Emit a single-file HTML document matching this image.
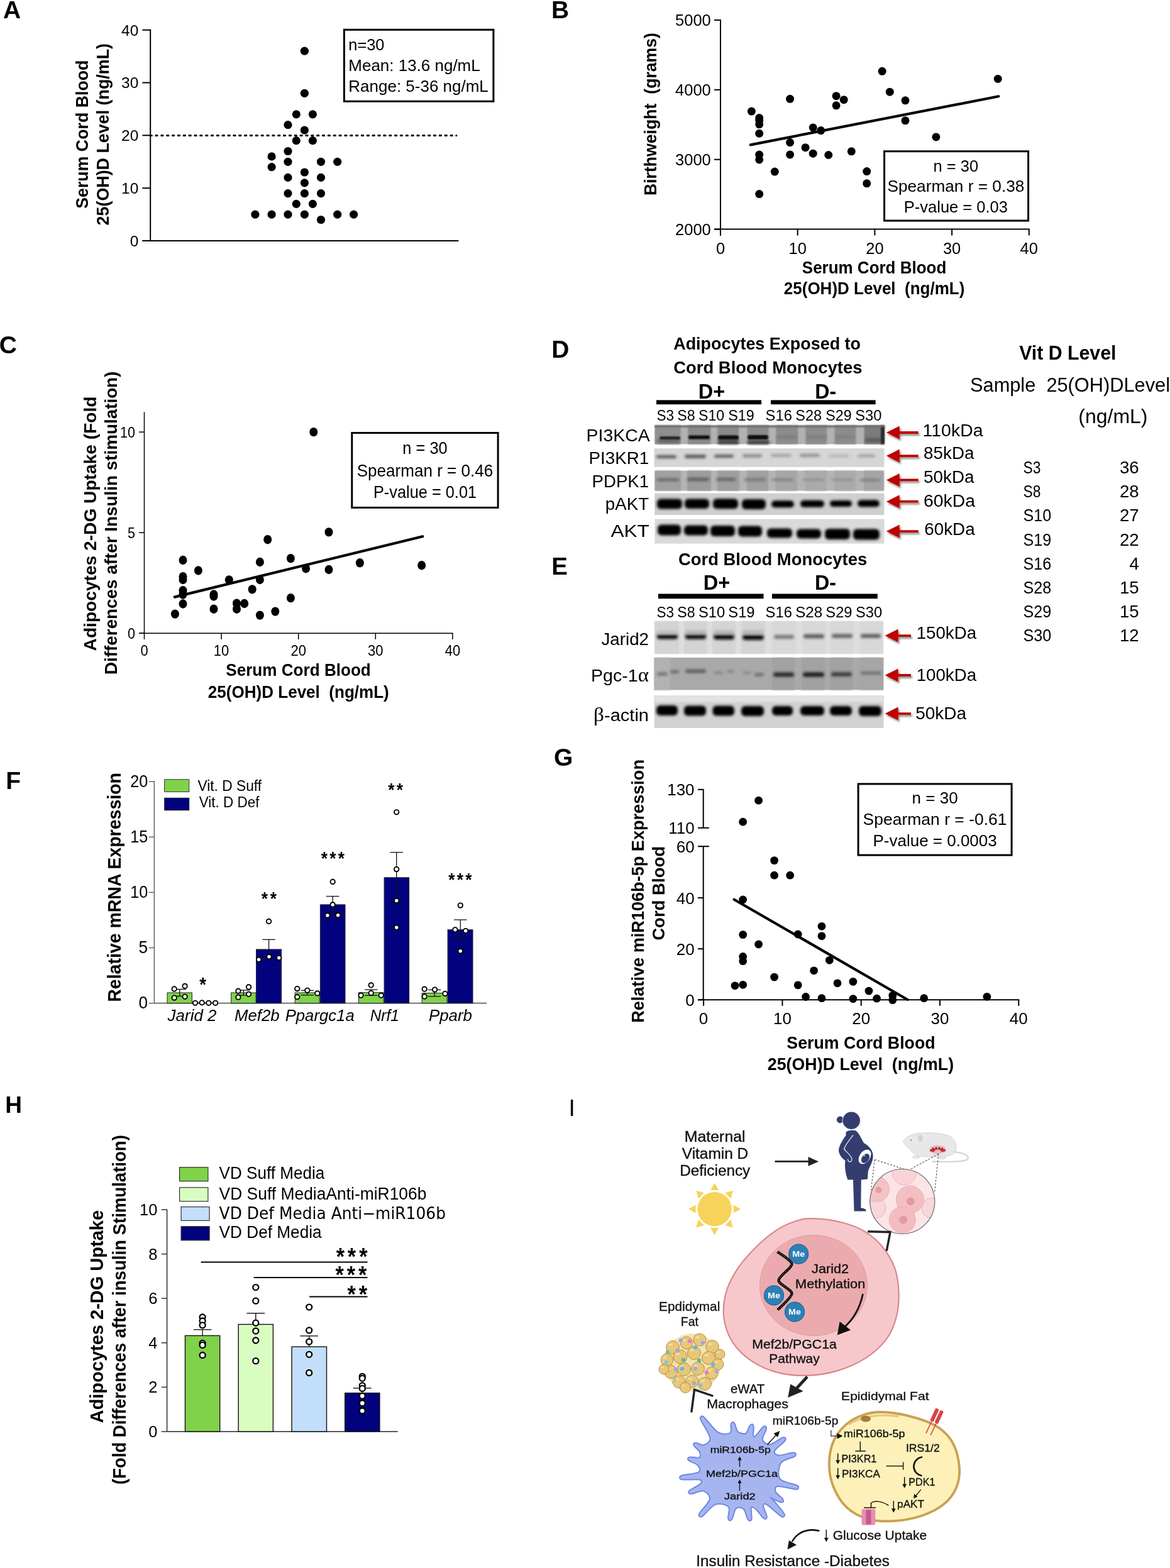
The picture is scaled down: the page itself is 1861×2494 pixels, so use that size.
<!DOCTYPE html>
<html><head><meta charset="utf-8"><title>Figure</title>
<style>html,body{margin:0;padding:0;background:#fff;} svg{display:block;}</style></head>
<body><svg width="1861" height="2494" viewBox="0 0 1861 2494">
<rect x="0" y="0" width="1861" height="2494" fill="#fff"/>
<text x="4.9" y="28.5" font-size="39" font-family="'Liberation Sans', Arial, sans-serif" xml:space="preserve" font-weight="bold" >A</text>
<line x1="239.2" y1="46.7" x2="239.2" y2="384.0" stroke="#000" stroke-width="2" />
<line x1="226.4" y1="47.7" x2="239.2" y2="47.7" stroke="#000" stroke-width="2" />
<text x="220.3" y="56.5" font-size="24.5" font-family="'Liberation Sans', Arial, sans-serif" xml:space="preserve" text-anchor="end" >40</text>
<line x1="226.4" y1="131.5" x2="239.2" y2="131.5" stroke="#000" stroke-width="2" />
<text x="220.3" y="140.3" font-size="24.5" font-family="'Liberation Sans', Arial, sans-serif" xml:space="preserve" text-anchor="end" >30</text>
<line x1="226.4" y1="215.3" x2="239.2" y2="215.3" stroke="#000" stroke-width="2" />
<text x="220.3" y="224.1" font-size="24.5" font-family="'Liberation Sans', Arial, sans-serif" xml:space="preserve" text-anchor="end" >20</text>
<line x1="226.4" y1="299.2" x2="239.2" y2="299.2" stroke="#000" stroke-width="2" />
<text x="220.3" y="308.0" font-size="24.5" font-family="'Liberation Sans', Arial, sans-serif" xml:space="preserve" text-anchor="end" >10</text>
<line x1="226.4" y1="383.0" x2="239.2" y2="383.0" stroke="#000" stroke-width="2" />
<text x="220.3" y="391.8" font-size="24.5" font-family="'Liberation Sans', Arial, sans-serif" xml:space="preserve" text-anchor="end" >0</text>
<line x1="226.4" y1="383.0" x2="729.4" y2="383.0" stroke="#000" stroke-width="2" />
<line x1="239.0" y1="215.6" x2="726.0" y2="215.6" stroke="#000" stroke-width="3.0" stroke-dasharray="2.4 6.45" stroke-linecap="round"/>
<text x="139.9" y="331.8" font-size="28" font-family="'Liberation Sans', Arial, sans-serif" xml:space="preserve" font-weight="bold" textLength="236.2" lengthAdjust="spacingAndGlyphs" transform="rotate(-90 139.9 331.8)" >Serum Cord Blood</text>
<text x="172.9" y="358.4" font-size="28" font-family="'Liberation Sans', Arial, sans-serif" xml:space="preserve" font-weight="bold" textLength="289.4" lengthAdjust="spacingAndGlyphs" transform="rotate(-90 172.9 358.4)" >25(OH)D Level (ng/mL)</text>
<circle cx="484.4" cy="81.2" r="6.60" fill="#000" />
<circle cx="484.4" cy="148.3" r="6.60" fill="#000" />
<circle cx="471.3" cy="181.8" r="6.60" fill="#000" />
<circle cx="497.4" cy="181.8" r="6.60" fill="#000" />
<circle cx="458.0" cy="198.6" r="6.60" fill="#000" />
<circle cx="484.4" cy="207.0" r="6.60" fill="#000" />
<circle cx="471.3" cy="223.7" r="6.60" fill="#000" />
<circle cx="497.4" cy="223.7" r="6.60" fill="#000" />
<circle cx="458.0" cy="240.5" r="6.60" fill="#000" />
<circle cx="432.1" cy="248.9" r="6.60" fill="#000" />
<circle cx="458.0" cy="257.3" r="6.60" fill="#000" />
<circle cx="510.5" cy="257.3" r="6.60" fill="#000" />
<circle cx="536.7" cy="257.3" r="6.60" fill="#000" />
<circle cx="432.1" cy="265.7" r="6.60" fill="#000" />
<circle cx="484.4" cy="274.0" r="6.60" fill="#000" />
<circle cx="458.0" cy="282.4" r="6.60" fill="#000" />
<circle cx="510.5" cy="282.4" r="6.60" fill="#000" />
<circle cx="484.4" cy="290.8" r="6.60" fill="#000" />
<circle cx="458.0" cy="307.6" r="6.60" fill="#000" />
<circle cx="484.4" cy="307.6" r="6.60" fill="#000" />
<circle cx="510.5" cy="307.6" r="6.60" fill="#000" />
<circle cx="471.3" cy="324.3" r="6.60" fill="#000" />
<circle cx="497.4" cy="324.3" r="6.60" fill="#000" />
<circle cx="405.9" cy="341.1" r="6.60" fill="#000" />
<circle cx="432.1" cy="341.1" r="6.60" fill="#000" />
<circle cx="458.0" cy="341.1" r="6.60" fill="#000" />
<circle cx="484.4" cy="341.1" r="6.60" fill="#000" />
<circle cx="536.7" cy="341.1" r="6.60" fill="#000" />
<circle cx="562.6" cy="341.1" r="6.60" fill="#000" />
<circle cx="510.5" cy="349.5" r="6.60" fill="#000" />
<rect x="547.4" y="47.3" width="237.5" height="113.9" fill="none" stroke="#000" stroke-width="3" />
<text x="554.3" y="79.5" font-size="25.4" font-family="'Liberation Sans', Arial, sans-serif" xml:space="preserve" >n=30</text>
<text x="554.3" y="112.6" font-size="25.4" font-family="'Liberation Sans', Arial, sans-serif" xml:space="preserve" textLength="209.4" lengthAdjust="spacingAndGlyphs" >Mean: 13.6 ng/mL</text>
<text x="554.3" y="145.8" font-size="25.4" font-family="'Liberation Sans', Arial, sans-serif" xml:space="preserve" textLength="222.5" lengthAdjust="spacingAndGlyphs" >Range: 5-36 ng/mL</text>
<text x="877.0" y="28.5" font-size="39" font-family="'Liberation Sans', Arial, sans-serif" xml:space="preserve" font-weight="bold" >B</text>
<line x1="1146.0" y1="31.0" x2="1146.0" y2="375.0" stroke="#000" stroke-width="2" />
<line x1="1136.0" y1="364.6" x2="1146.0" y2="364.6" stroke="#000" stroke-width="2" />
<text x="1130.8" y="374.0" font-size="25.5" font-family="'Liberation Sans', Arial, sans-serif" xml:space="preserve" text-anchor="end" >2000</text>
<line x1="1136.0" y1="253.7" x2="1146.0" y2="253.7" stroke="#000" stroke-width="2" />
<text x="1130.8" y="263.1" font-size="25.5" font-family="'Liberation Sans', Arial, sans-serif" xml:space="preserve" text-anchor="end" >3000</text>
<line x1="1136.0" y1="142.8" x2="1146.0" y2="142.8" stroke="#000" stroke-width="2" />
<text x="1130.8" y="152.2" font-size="25.5" font-family="'Liberation Sans', Arial, sans-serif" xml:space="preserve" text-anchor="end" >4000</text>
<line x1="1136.0" y1="31.9" x2="1146.0" y2="31.9" stroke="#000" stroke-width="2" />
<text x="1130.8" y="41.3" font-size="25.5" font-family="'Liberation Sans', Arial, sans-serif" xml:space="preserve" text-anchor="end" >5000</text>
<line x1="1136.0" y1="364.6" x2="1637.8" y2="364.6" stroke="#000" stroke-width="2" />
<line x1="1146.0" y1="364.6" x2="1146.0" y2="374.5" stroke="#000" stroke-width="2" />
<text x="1146.0" y="403.5" font-size="25.5" font-family="'Liberation Sans', Arial, sans-serif" xml:space="preserve" text-anchor="middle" >0</text>
<line x1="1268.7" y1="364.6" x2="1268.7" y2="374.5" stroke="#000" stroke-width="2" />
<text x="1268.7" y="403.5" font-size="25.5" font-family="'Liberation Sans', Arial, sans-serif" xml:space="preserve" text-anchor="middle" >10</text>
<line x1="1391.4" y1="364.6" x2="1391.4" y2="374.5" stroke="#000" stroke-width="2" />
<text x="1391.4" y="403.5" font-size="25.5" font-family="'Liberation Sans', Arial, sans-serif" xml:space="preserve" text-anchor="middle" >20</text>
<line x1="1514.1" y1="364.6" x2="1514.1" y2="374.5" stroke="#000" stroke-width="2" />
<text x="1514.1" y="403.5" font-size="25.5" font-family="'Liberation Sans', Arial, sans-serif" xml:space="preserve" text-anchor="middle" >30</text>
<line x1="1636.8" y1="364.6" x2="1636.8" y2="374.5" stroke="#000" stroke-width="2" />
<text x="1636.8" y="403.5" font-size="25.5" font-family="'Liberation Sans', Arial, sans-serif" xml:space="preserve" text-anchor="middle" >40</text>
<text x="1043.6" y="311.1" font-size="27" font-family="'Liberation Sans', Arial, sans-serif" xml:space="preserve" font-weight="bold" textLength="259.1" lengthAdjust="spacingAndGlyphs" transform="rotate(-90 1043.6 311.1)" >Birthweight  (grams)</text>
<text x="1275.8" y="434.9" font-size="28" font-family="'Liberation Sans', Arial, sans-serif" xml:space="preserve" font-weight="bold" textLength="229.5" lengthAdjust="spacingAndGlyphs" >Serum Cord Blood</text>
<text x="1246.8" y="468.3" font-size="28" font-family="'Liberation Sans', Arial, sans-serif" xml:space="preserve" font-weight="bold" textLength="287.6" lengthAdjust="spacingAndGlyphs" >25(OH)D Level  (ng/mL)</text>
<circle cx="1195.4" cy="177.1" r="6.50" fill="#000" />
<circle cx="1207.7" cy="187.5" r="6.50" fill="#000" />
<circle cx="1207.7" cy="191.6" r="6.50" fill="#000" />
<circle cx="1207.7" cy="197.8" r="6.50" fill="#000" />
<circle cx="1207.7" cy="212.3" r="6.50" fill="#000" />
<circle cx="1207.7" cy="246.0" r="6.50" fill="#000" />
<circle cx="1207.7" cy="253.9" r="6.50" fill="#000" />
<circle cx="1207.7" cy="308.6" r="6.50" fill="#000" />
<circle cx="1232.3" cy="273.1" r="6.50" fill="#000" />
<circle cx="1256.6" cy="157.3" r="6.50" fill="#000" />
<circle cx="1256.6" cy="226.6" r="6.50" fill="#000" />
<circle cx="1256.6" cy="245.9" r="6.50" fill="#000" />
<circle cx="1281.1" cy="234.7" r="6.50" fill="#000" />
<circle cx="1293.2" cy="202.9" r="6.50" fill="#000" />
<circle cx="1293.2" cy="244.2" r="6.50" fill="#000" />
<circle cx="1305.7" cy="207.6" r="6.50" fill="#000" />
<circle cx="1317.8" cy="246.5" r="6.50" fill="#000" />
<circle cx="1330.1" cy="152.7" r="6.50" fill="#000" />
<circle cx="1330.1" cy="167.8" r="6.50" fill="#000" />
<circle cx="1342.2" cy="158.7" r="6.50" fill="#000" />
<circle cx="1354.3" cy="240.8" r="6.50" fill="#000" />
<circle cx="1378.7" cy="272.6" r="6.50" fill="#000" />
<circle cx="1378.7" cy="291.8" r="6.50" fill="#000" />
<circle cx="1403.2" cy="113.3" r="6.50" fill="#000" />
<circle cx="1415.3" cy="146.2" r="6.50" fill="#000" />
<circle cx="1440.0" cy="159.8" r="6.50" fill="#000" />
<circle cx="1440.0" cy="191.8" r="6.50" fill="#000" />
<circle cx="1488.9" cy="217.9" r="6.50" fill="#000" />
<circle cx="1587.2" cy="125.4" r="6.50" fill="#000" />
<line x1="1193.8" y1="230.4" x2="1588.2" y2="153.2" stroke="#000" stroke-width="4.2" stroke-linecap="round"/>
<rect x="1406.6" y="240.7" width="229.0" height="110.3" fill="#fff" stroke="#000" stroke-width="3" />
<text x="1520.4" y="272.6" font-size="25.5" font-family="'Liberation Sans', Arial, sans-serif" xml:space="preserve" text-anchor="middle" >n = 30</text>
<text x="1520.4" y="305.0" font-size="25.5" font-family="'Liberation Sans', Arial, sans-serif" xml:space="preserve" text-anchor="middle" textLength="217.9" lengthAdjust="spacingAndGlyphs" >Spearman r = 0.38</text>
<text x="1520.4" y="338.0" font-size="25.5" font-family="'Liberation Sans', Arial, sans-serif" xml:space="preserve" text-anchor="middle" >P-value = 0.03</text>
<text x="-1.2" y="562.3" font-size="39" font-family="'Liberation Sans', Arial, sans-serif" xml:space="preserve" font-weight="bold" >C</text>
<line x1="229.5" y1="655.5" x2="229.5" y2="1008.0" stroke="#000" stroke-width="1.5" />
<line x1="221.0" y1="1007.2" x2="229.5" y2="1007.2" stroke="#000" stroke-width="1.5" />
<text x="215.1" y="1015.7" font-size="24.5" font-family="'Liberation Sans', Arial, sans-serif" xml:space="preserve" text-anchor="end" textLength="12.0" lengthAdjust="spacingAndGlyphs" >0</text>
<line x1="221.0" y1="847.2" x2="229.5" y2="847.2" stroke="#000" stroke-width="1.5" />
<text x="215.1" y="855.7" font-size="24.5" font-family="'Liberation Sans', Arial, sans-serif" xml:space="preserve" text-anchor="end" textLength="12.0" lengthAdjust="spacingAndGlyphs" >5</text>
<line x1="221.0" y1="687.2" x2="229.5" y2="687.2" stroke="#000" stroke-width="1.5" />
<text x="215.1" y="695.7" font-size="24.5" font-family="'Liberation Sans', Arial, sans-serif" xml:space="preserve" text-anchor="end" textLength="24.0" lengthAdjust="spacingAndGlyphs" >10</text>
<line x1="221.0" y1="1007.2" x2="720.6" y2="1007.2" stroke="#000" stroke-width="1.5" />
<line x1="229.5" y1="1007.2" x2="229.5" y2="1016.9" stroke="#000" stroke-width="1.5" />
<text x="229.5" y="1043.2" font-size="24.0" font-family="'Liberation Sans', Arial, sans-serif" xml:space="preserve" text-anchor="middle" textLength="12.2" lengthAdjust="spacingAndGlyphs" >0</text>
<line x1="352.1" y1="1007.2" x2="352.1" y2="1016.9" stroke="#000" stroke-width="1.5" />
<text x="352.1" y="1043.2" font-size="24.0" font-family="'Liberation Sans', Arial, sans-serif" xml:space="preserve" text-anchor="middle" textLength="24.5" lengthAdjust="spacingAndGlyphs" >10</text>
<line x1="474.7" y1="1007.2" x2="474.7" y2="1016.9" stroke="#000" stroke-width="1.5" />
<text x="474.7" y="1043.2" font-size="24.0" font-family="'Liberation Sans', Arial, sans-serif" xml:space="preserve" text-anchor="middle" textLength="24.5" lengthAdjust="spacingAndGlyphs" >20</text>
<line x1="597.3" y1="1007.2" x2="597.3" y2="1016.9" stroke="#000" stroke-width="1.5" />
<text x="597.3" y="1043.2" font-size="24.0" font-family="'Liberation Sans', Arial, sans-serif" xml:space="preserve" text-anchor="middle" textLength="24.5" lengthAdjust="spacingAndGlyphs" >30</text>
<line x1="719.9" y1="1007.2" x2="719.9" y2="1016.9" stroke="#000" stroke-width="1.5" />
<text x="719.9" y="1043.2" font-size="24.0" font-family="'Liberation Sans', Arial, sans-serif" xml:space="preserve" text-anchor="middle" textLength="24.5" lengthAdjust="spacingAndGlyphs" >40</text>
<text x="152.9" y="1035.4" font-size="28" font-family="'Liberation Sans', Arial, sans-serif" xml:space="preserve" font-weight="bold" textLength="404.9" lengthAdjust="spacingAndGlyphs" transform="rotate(-90 152.9 1035.4)" >Adipocytes 2-DG Uptake (Fold</text>
<text x="185.7" y="1073.0" font-size="28" font-family="'Liberation Sans', Arial, sans-serif" xml:space="preserve" font-weight="bold" textLength="482.4" lengthAdjust="spacingAndGlyphs" transform="rotate(-90 185.7 1073.0)" >Differences after Insulin stimulation)</text>
<ellipse cx="278.4" cy="976.6" rx="6.50" ry="7.20" fill="#000" />
<ellipse cx="291.0" cy="891.0" rx="6.50" ry="7.20" fill="#000" />
<ellipse cx="291.0" cy="917.2" rx="6.50" ry="7.20" fill="#000" />
<ellipse cx="291.0" cy="922.0" rx="6.50" ry="7.20" fill="#000" />
<ellipse cx="291.0" cy="939.3" rx="6.50" ry="7.20" fill="#000" />
<ellipse cx="291.0" cy="945.6" rx="6.50" ry="7.20" fill="#000" />
<ellipse cx="291.0" cy="960.5" rx="6.50" ry="7.20" fill="#000" />
<ellipse cx="315.4" cy="907.5" rx="6.50" ry="7.20" fill="#000" />
<ellipse cx="340.0" cy="945.5" rx="6.50" ry="7.20" fill="#000" />
<ellipse cx="340.0" cy="948.5" rx="6.50" ry="7.20" fill="#000" />
<ellipse cx="340.0" cy="968.7" rx="6.50" ry="7.20" fill="#000" />
<ellipse cx="364.3" cy="922.4" rx="6.50" ry="7.20" fill="#000" />
<ellipse cx="376.5" cy="959.7" rx="6.50" ry="7.20" fill="#000" />
<ellipse cx="376.5" cy="968.7" rx="6.50" ry="7.20" fill="#000" />
<ellipse cx="388.7" cy="960.0" rx="6.50" ry="7.20" fill="#000" />
<ellipse cx="401.2" cy="937.4" rx="6.50" ry="7.20" fill="#000" />
<ellipse cx="413.4" cy="894.0" rx="6.50" ry="7.20" fill="#000" />
<ellipse cx="413.4" cy="922.0" rx="6.50" ry="7.20" fill="#000" />
<ellipse cx="413.4" cy="978.6" rx="6.50" ry="7.20" fill="#000" />
<ellipse cx="425.7" cy="858.2" rx="6.50" ry="7.20" fill="#000" />
<ellipse cx="437.8" cy="972.6" rx="6.50" ry="7.20" fill="#000" />
<ellipse cx="462.4" cy="888.1" rx="6.50" ry="7.20" fill="#000" />
<ellipse cx="462.4" cy="951.1" rx="6.50" ry="7.20" fill="#000" />
<ellipse cx="486.6" cy="904.2" rx="6.50" ry="7.20" fill="#000" />
<ellipse cx="498.8" cy="687.1" rx="6.50" ry="7.20" fill="#000" />
<ellipse cx="523.0" cy="846.4" rx="6.50" ry="7.20" fill="#000" />
<ellipse cx="523.0" cy="906.0" rx="6.50" ry="7.20" fill="#000" />
<ellipse cx="572.4" cy="895.3" rx="6.50" ry="7.20" fill="#000" />
<ellipse cx="670.7" cy="899.2" rx="6.50" ry="7.20" fill="#000" />
<line x1="277.8" y1="949.6" x2="672.2" y2="853.2" stroke="#000" stroke-width="4.2" stroke-linecap="round"/>
<rect x="559.8" y="688.5" width="232.3" height="118.9" fill="#fff" stroke="#000" stroke-width="3" />
<text x="676.0" y="722.2" font-size="28" font-family="'Liberation Sans', Arial, sans-serif" xml:space="preserve" text-anchor="middle" textLength="71.4" lengthAdjust="spacingAndGlyphs" >n = 30</text>
<text x="676.0" y="757.5" font-size="28" font-family="'Liberation Sans', Arial, sans-serif" xml:space="preserve" text-anchor="middle" textLength="216.7" lengthAdjust="spacingAndGlyphs" >Spearman r = 0.46</text>
<text x="676.0" y="792.3" font-size="28" font-family="'Liberation Sans', Arial, sans-serif" xml:space="preserve" text-anchor="middle" textLength="164.2" lengthAdjust="spacingAndGlyphs" >P-value = 0.01</text>
<text x="359.3" y="1074.5" font-size="28" font-family="'Liberation Sans', Arial, sans-serif" xml:space="preserve" font-weight="bold" textLength="230.5" lengthAdjust="spacingAndGlyphs" >Serum Cord Blood</text>
<text x="330.8" y="1109.8" font-size="28" font-family="'Liberation Sans', Arial, sans-serif" xml:space="preserve" font-weight="bold" textLength="288.0" lengthAdjust="spacingAndGlyphs" >25(OH)D Level  (ng/mL)</text>
<defs>
<filter id="bl1" x="-20%" y="-80%" width="140%" height="260%"><feGaussianBlur stdDeviation="1.9"/></filter>
<filter id="bl2" x="-20%" y="-50%" width="140%" height="200%"><feGaussianBlur stdDeviation="1.0"/></filter>
<filter id="bl3" x="-20%" y="-50%" width="140%" height="200%"><feGaussianBlur stdDeviation="2.4"/></filter>
<filter id="shd" x="-30%" y="-50%" width="160%" height="220%"><feGaussianBlur in="SourceAlpha" stdDeviation="1.6"/><feOffset dx="2" dy="3" result="o"/><feComponentTransfer><feFuncA type="linear" slope="0.45"/></feComponentTransfer><feMerge><feMergeNode/><feMergeNode in="SourceGraphic"/></feMerge></filter>
</defs>
<text x="877.2" y="568.5" font-size="39" font-family="'Liberation Sans', Arial, sans-serif" xml:space="preserve" font-weight="bold" >D</text>
<text x="1071.2" y="555.6" font-size="28" font-family="'Liberation Sans', Arial, sans-serif" xml:space="preserve" font-weight="bold" textLength="297.8" lengthAdjust="spacingAndGlyphs" >Adipocytes Exposed to</text>
<text x="1071.2" y="593.8" font-size="28" font-family="'Liberation Sans', Arial, sans-serif" xml:space="preserve" font-weight="bold" textLength="300.3" lengthAdjust="spacingAndGlyphs" >Cord Blood Monocytes</text>
<text x="1110.7" y="633.5" font-size="32.5" font-family="'Liberation Sans', Arial, sans-serif" xml:space="preserve" font-weight="bold" textLength="42.5" lengthAdjust="spacingAndGlyphs" >D+</text>
<text x="1296.3" y="633.5" font-size="32.5" font-family="'Liberation Sans', Arial, sans-serif" xml:space="preserve" font-weight="bold" textLength="34.0" lengthAdjust="spacingAndGlyphs" >D-</text>
<rect x="1044.0" y="636.4" width="167.1" height="6.8" fill="#000" />
<rect x="1226.0" y="636.4" width="166.7" height="6.8" fill="#000" />
<text x="1044.4" y="669.4" font-size="23" font-family="'Liberation Sans', Arial, sans-serif" xml:space="preserve" textLength="27.6" lengthAdjust="spacingAndGlyphs" >S3</text>
<text x="1077.3" y="669.4" font-size="23" font-family="'Liberation Sans', Arial, sans-serif" xml:space="preserve" textLength="28.4" lengthAdjust="spacingAndGlyphs" >S8</text>
<text x="1111.0" y="669.4" font-size="23" font-family="'Liberation Sans', Arial, sans-serif" xml:space="preserve" textLength="41.2" lengthAdjust="spacingAndGlyphs" >S10</text>
<text x="1158.3" y="669.4" font-size="23" font-family="'Liberation Sans', Arial, sans-serif" xml:space="preserve" textLength="41.5" lengthAdjust="spacingAndGlyphs" >S19</text>
<text x="1217.6" y="669.4" font-size="23" font-family="'Liberation Sans', Arial, sans-serif" xml:space="preserve" textLength="42.3" lengthAdjust="spacingAndGlyphs" >S16</text>
<text x="1265.2" y="669.4" font-size="23" font-family="'Liberation Sans', Arial, sans-serif" xml:space="preserve" textLength="41.9" lengthAdjust="spacingAndGlyphs" >S28</text>
<text x="1313.3" y="669.4" font-size="23" font-family="'Liberation Sans', Arial, sans-serif" xml:space="preserve" textLength="41.5" lengthAdjust="spacingAndGlyphs" >S29</text>
<text x="1360.2" y="669.4" font-size="23" font-family="'Liberation Sans', Arial, sans-serif" xml:space="preserve" textLength="42.3" lengthAdjust="spacingAndGlyphs" >S30</text>
<g><rect x="1041.3" y="676.6" width="365.7" height="29.9" fill="#b2b2b2"/>
<rect x="1042.0" y="676.6" width="40.7" height="29.9" fill="#8e8e8e" filter="url(#bl2)"/>
<rect x="1094.2" y="676.6" width="36.3" height="29.9" fill="#8a8a8a" filter="url(#bl2)"/>
<rect x="1141.4" y="676.6" width="33.9" height="29.9" fill="#8a8a8a" filter="url(#bl2)"/>
<rect x="1188.6" y="676.6" width="33.9" height="29.9" fill="#8a8a8a" filter="url(#bl2)"/>
<rect x="1234.2" y="676.6" width="35.1" height="29.9" fill="#8c8c8c" filter="url(#bl2)"/>
<rect x="1281.4" y="676.6" width="33.9" height="29.9" fill="#8c8c8c" filter="url(#bl2)"/>
<rect x="1327.4" y="676.6" width="33.9" height="29.9" fill="#8c8c8c" filter="url(#bl2)"/>
<rect x="1374.6" y="676.6" width="31.4" height="29.9" fill="#7c7c7c" filter="url(#bl2)"/>
<rect x="1049.0" y="694.2" width="33.0" height="5.5" rx="2.8" fill="#1a1a1a" filter="url(#bl2)"/>
<rect x="1095.0" y="692.5" width="34.0" height="6.0" rx="3.0" fill="#111" filter="url(#bl2)"/>
<rect x="1142.0" y="692.5" width="33.0" height="7.0" rx="3.5" fill="#0c0c0c" filter="url(#bl2)"/>
<rect x="1189.0" y="692.0" width="33.0" height="7.0" rx="3.5" fill="#0c0c0c" filter="url(#bl2)"/>
<rect x="1046.0" y="699.5" width="35.0" height="5.0" rx="2.5" fill="#606060" filter="url(#bl1)"/>
<rect x="1142.0" y="700.0" width="33.0" height="6.0" rx="3.0" fill="#3a3a3a" filter="url(#bl1)"/>
<rect x="1189.0" y="701.0" width="35.0" height="5.0" rx="2.5" fill="#333" filter="url(#bl1)"/>
<rect x="1236.0" y="692.5" width="32.0" height="5.0" rx="2.5" fill="#7c7c7c" filter="url(#bl1)"/>
<rect x="1283.0" y="692.5" width="31.0" height="5.0" rx="2.5" fill="#7e7e7e" filter="url(#bl1)"/>
<rect x="1329.0" y="692.5" width="31.0" height="5.0" rx="2.5" fill="#808080" filter="url(#bl1)"/>
<rect x="1376.0" y="697.0" width="28.0" height="6.0" rx="3.0" fill="#5a5a5a" filter="url(#bl1)"/>
<rect x="1401" y="677" width="6" height="29.5" fill="#2a2a2a" filter="url(#bl2)"/><rect x="1041.3" y="676.6" width="365.7" height="3" fill="#6a6a6a" filter="url(#bl2)"/>
</g>
<g><rect x="1040.5" y="713.2" width="366.0" height="29.6" fill="#d6d6d6"/>
<rect x="1044.0" y="724.1" width="32.0" height="5.0" rx="2.5" fill="#5a5a5a" filter="url(#bl1)"/>
<rect x="1089.0" y="723.2" width="34.0" height="5.5" rx="2.8" fill="#555" filter="url(#bl1)"/>
<rect x="1136.0" y="723.0" width="31.0" height="5.0" rx="2.5" fill="#5e5e5e" filter="url(#bl1)"/>
<rect x="1181.0" y="722.8" width="31.0" height="4.5" rx="2.2" fill="#808080" filter="url(#bl1)"/>
<rect x="1226.0" y="722.5" width="33.0" height="4.0" rx="2.0" fill="#9a9a9a" filter="url(#bl1)"/>
<rect x="1272.0" y="722.0" width="32.0" height="4.5" rx="2.2" fill="#8a8a8a" filter="url(#bl1)"/>
<rect x="1318.0" y="723.2" width="32.0" height="3.5" rx="1.8" fill="#acacac" filter="url(#bl1)"/>
<rect x="1364.0" y="723.0" width="28.0" height="4.0" rx="2.0" fill="#9a9a9a" filter="url(#bl1)"/>
</g>
<g><rect x="1041.3" y="748.6" width="365.2" height="32.0" fill="#b4b4b4"/>
<rect x="1042.0" y="748.6" width="41.0" height="32.0" fill="#a0a0a0" filter="url(#bl2)"/>
<rect x="1093.0" y="748.6" width="38.0" height="32.0" fill="#9c9c9c" filter="url(#bl2)"/>
<rect x="1141.0" y="748.6" width="35.0" height="32.0" fill="#9e9e9e" filter="url(#bl2)"/>
<rect x="1188.0" y="748.6" width="34.0" height="32.0" fill="#a0a0a0" filter="url(#bl2)"/>
<rect x="1234.0" y="748.6" width="34.0" height="32.0" fill="#a6a6a6" filter="url(#bl2)"/>
<rect x="1280.0" y="748.6" width="35.0" height="32.0" fill="#aaaaaa" filter="url(#bl2)"/>
<rect x="1327.0" y="748.6" width="34.0" height="32.0" fill="#aaaaaa" filter="url(#bl2)"/>
<rect x="1374.0" y="748.6" width="31.0" height="32.0" fill="#a4a4a4" filter="url(#bl2)"/>
<rect x="1045.0" y="761.0" width="35.0" height="4.0" rx="2.0" fill="#606060" filter="url(#bl1)"/>
<rect x="1093.0" y="760.2" width="35.0" height="4.5" rx="2.2" fill="#555" filter="url(#bl1)"/>
<rect x="1139.0" y="760.5" width="31.0" height="4.0" rx="2.0" fill="#5a5a5a" filter="url(#bl1)"/>
<rect x="1184.0" y="761.0" width="34.0" height="4.0" rx="2.0" fill="#707070" filter="url(#bl1)"/>
<rect x="1228.0" y="761.2" width="34.0" height="3.5" rx="1.8" fill="#7a7a7a" filter="url(#bl1)"/>
<rect x="1276.0" y="761.5" width="34.0" height="3.0" rx="1.5" fill="#8a8a8a" filter="url(#bl1)"/>
<rect x="1322.0" y="761.5" width="35.0" height="3.0" rx="1.5" fill="#888" filter="url(#bl1)"/>
<rect x="1368.0" y="761.8" width="32.0" height="3.5" rx="1.8" fill="#777" filter="url(#bl1)"/>
</g>
<g><rect x="1041.3" y="784.6" width="365.2" height="34.6" fill="#cfcfcf"/>
<rect x="1045.0" y="793.5" width="40.0" height="16.0" rx="6.0" fill="#000" filter="url(#bl1)"/>
<rect x="1089.0" y="793.5" width="39.0" height="15.5" rx="6.0" fill="#000" filter="url(#bl1)"/>
<rect x="1134.0" y="793.3" width="40.0" height="16.0" rx="6.0" fill="#000" filter="url(#bl1)"/>
<rect x="1180.0" y="794.0" width="38.0" height="16.0" rx="6.0" fill="#000" filter="url(#bl1)"/>
<rect x="1227.0" y="796.3" width="36.0" height="11.0" rx="5.5" fill="#000" filter="url(#bl1)"/>
<rect x="1273.0" y="795.8" width="38.0" height="11.0" rx="5.5" fill="#000" filter="url(#bl1)"/>
<rect x="1320.0" y="796.0" width="35.0" height="10.0" rx="5.0" fill="#000" filter="url(#bl1)"/>
<rect x="1364.0" y="795.3" width="35.0" height="11.0" rx="5.5" fill="#000" filter="url(#bl1)"/>
</g>
<g><rect x="1041.3" y="825.5" width="365.2" height="39.1" fill="#dadada"/>
<rect x="1046.0" y="834.5" width="37.0" height="17.0" rx="6.0" fill="#000" filter="url(#bl1)"/>
<rect x="1088.0" y="835.5" width="38.0" height="16.0" rx="6.0" fill="#000" filter="url(#bl1)"/>
<rect x="1130.0" y="836.0" width="39.0" height="17.0" rx="6.0" fill="#000" filter="url(#bl1)"/>
<rect x="1174.0" y="836.5" width="38.0" height="17.0" rx="6.0" fill="#000" filter="url(#bl1)"/>
<rect x="1220.0" y="840.5" width="40.0" height="15.0" rx="6.0" fill="#000" filter="url(#bl1)"/>
<rect x="1267.0" y="841.5" width="39.0" height="15.0" rx="6.0" fill="#000" filter="url(#bl1)"/>
<rect x="1312.0" y="841.0" width="40.0" height="17.0" rx="6.0" fill="#000" filter="url(#bl1)"/>
<rect x="1357.0" y="841.5" width="42.0" height="17.0" rx="6.0" fill="#000" filter="url(#bl1)"/>
</g>
<text x="1033.7" y="701.8" font-size="27" font-family="'Liberation Sans', Arial, sans-serif" xml:space="preserve" text-anchor="end" textLength="101.1" lengthAdjust="spacingAndGlyphs" >PI3KCA</text>
<text x="1032.1" y="737.8" font-size="27" font-family="'Liberation Sans', Arial, sans-serif" xml:space="preserve" text-anchor="end" textLength="95.6" lengthAdjust="spacingAndGlyphs" >PI3KR1</text>
<text x="1032.1" y="774.6" font-size="27" font-family="'Liberation Sans', Arial, sans-serif" xml:space="preserve" text-anchor="end" textLength="90.6" lengthAdjust="spacingAndGlyphs" >PDPK1</text>
<text x="1032.1" y="811.4" font-size="27.5" font-family="'Liberation Sans', Arial, sans-serif" xml:space="preserve" text-anchor="end" textLength="69.3" lengthAdjust="spacingAndGlyphs" >pAKT</text>
<text x="1032.9" y="854.0" font-size="28.5" font-family="'Liberation Sans', Arial, sans-serif" xml:space="preserve" text-anchor="end" textLength="61.5" lengthAdjust="spacingAndGlyphs" >AKT</text>
<g filter="url(#shd)"><path d="M1409.8 688.0 L1430.8 677.5 L1430.8 686.1 L1460.8 686.1 L1460.8 689.9 L1430.8 689.9 L1430.8 698.5 Z" fill="#c00000"/></g>
<g filter="url(#shd)"><path d="M1409.8 725.1 L1430.8 714.6 L1430.8 723.2 L1460.8 723.2 L1460.8 727.0 L1430.8 727.0 L1430.8 735.6 Z" fill="#c00000"/></g>
<g filter="url(#shd)"><path d="M1409.8 763.4 L1430.8 752.9 L1430.8 761.5 L1460.8 761.5 L1460.8 765.3 L1430.8 765.3 L1430.8 773.9 Z" fill="#c00000"/></g>
<g filter="url(#shd)"><path d="M1409.8 797.7 L1430.8 787.2 L1430.8 795.8 L1460.8 795.8 L1460.8 799.6 L1430.8 799.6 L1430.8 808.2 Z" fill="#c00000"/></g>
<g filter="url(#shd)"><path d="M1409.8 845.1 L1430.8 834.6 L1430.8 843.2 L1460.8 843.2 L1460.8 847.0 L1430.8 847.0 L1430.8 855.6 Z" fill="#c00000"/></g>
<text x="1467.6" y="693.6" font-size="27" font-family="'Liberation Sans', Arial, sans-serif" xml:space="preserve" textLength="95.9" lengthAdjust="spacingAndGlyphs" >110kDa</text>
<text x="1469.0" y="729.9" font-size="27" font-family="'Liberation Sans', Arial, sans-serif" xml:space="preserve" textLength="80.5" lengthAdjust="spacingAndGlyphs" >85kDa</text>
<text x="1469.0" y="768.4" font-size="27" font-family="'Liberation Sans', Arial, sans-serif" xml:space="preserve" textLength="80.5" lengthAdjust="spacingAndGlyphs" >50kDa</text>
<text x="1469.0" y="806.0" font-size="27" font-family="'Liberation Sans', Arial, sans-serif" xml:space="preserve" textLength="82.0" lengthAdjust="spacingAndGlyphs" >60kDa</text>
<text x="1470.2" y="850.7" font-size="27" font-family="'Liberation Sans', Arial, sans-serif" xml:space="preserve" textLength="80.5" lengthAdjust="spacingAndGlyphs" >60kDa</text>
<text x="1621.2" y="572.1" font-size="32" font-family="'Liberation Sans', Arial, sans-serif" xml:space="preserve" font-weight="bold" textLength="154.2" lengthAdjust="spacingAndGlyphs" >Vit D Level</text>
<text x="1543.0" y="622.6" font-size="31" font-family="'Liberation Sans', Arial, sans-serif" xml:space="preserve" textLength="318.0" lengthAdjust="spacingAndGlyphs" >Sample  25(OH)DLevel</text>
<text x="1715.3" y="673.3" font-size="31" font-family="'Liberation Sans', Arial, sans-serif" xml:space="preserve" textLength="110.2" lengthAdjust="spacingAndGlyphs" >(ng/mL)</text>
<text x="1627.5" y="753.0" font-size="27" font-family="'Liberation Sans', Arial, sans-serif" xml:space="preserve" textLength="27.9" lengthAdjust="spacingAndGlyphs" >S3</text>
<text x="1811.7" y="753.0" font-size="27" font-family="'Liberation Sans', Arial, sans-serif" xml:space="preserve" text-anchor="end" textLength="30.7" lengthAdjust="spacingAndGlyphs" >36</text>
<text x="1627.5" y="791.1" font-size="27" font-family="'Liberation Sans', Arial, sans-serif" xml:space="preserve" textLength="27.9" lengthAdjust="spacingAndGlyphs" >S8</text>
<text x="1811.7" y="791.1" font-size="27" font-family="'Liberation Sans', Arial, sans-serif" xml:space="preserve" text-anchor="end" textLength="30.7" lengthAdjust="spacingAndGlyphs" >28</text>
<text x="1627.5" y="829.3" font-size="27" font-family="'Liberation Sans', Arial, sans-serif" xml:space="preserve" textLength="44.7" lengthAdjust="spacingAndGlyphs" >S10</text>
<text x="1811.7" y="829.3" font-size="27" font-family="'Liberation Sans', Arial, sans-serif" xml:space="preserve" text-anchor="end" textLength="30.7" lengthAdjust="spacingAndGlyphs" >27</text>
<text x="1627.5" y="867.5" font-size="27" font-family="'Liberation Sans', Arial, sans-serif" xml:space="preserve" textLength="44.7" lengthAdjust="spacingAndGlyphs" >S19</text>
<text x="1811.7" y="867.5" font-size="27" font-family="'Liberation Sans', Arial, sans-serif" xml:space="preserve" text-anchor="end" textLength="30.7" lengthAdjust="spacingAndGlyphs" >22</text>
<text x="1627.5" y="905.6" font-size="27" font-family="'Liberation Sans', Arial, sans-serif" xml:space="preserve" textLength="44.7" lengthAdjust="spacingAndGlyphs" >S16</text>
<text x="1811.7" y="905.6" font-size="27" font-family="'Liberation Sans', Arial, sans-serif" xml:space="preserve" text-anchor="end" textLength="15.3" lengthAdjust="spacingAndGlyphs" >4</text>
<text x="1627.5" y="943.8" font-size="27" font-family="'Liberation Sans', Arial, sans-serif" xml:space="preserve" textLength="44.7" lengthAdjust="spacingAndGlyphs" >S28</text>
<text x="1811.7" y="943.8" font-size="27" font-family="'Liberation Sans', Arial, sans-serif" xml:space="preserve" text-anchor="end" textLength="30.7" lengthAdjust="spacingAndGlyphs" >15</text>
<text x="1627.5" y="981.9" font-size="27" font-family="'Liberation Sans', Arial, sans-serif" xml:space="preserve" textLength="44.7" lengthAdjust="spacingAndGlyphs" >S29</text>
<text x="1811.7" y="981.9" font-size="27" font-family="'Liberation Sans', Arial, sans-serif" xml:space="preserve" text-anchor="end" textLength="30.7" lengthAdjust="spacingAndGlyphs" >15</text>
<text x="1627.5" y="1020.0" font-size="27" font-family="'Liberation Sans', Arial, sans-serif" xml:space="preserve" textLength="44.7" lengthAdjust="spacingAndGlyphs" >S30</text>
<text x="1811.7" y="1020.0" font-size="27" font-family="'Liberation Sans', Arial, sans-serif" xml:space="preserve" text-anchor="end" textLength="30.7" lengthAdjust="spacingAndGlyphs" >12</text>
<text x="877.2" y="913.7" font-size="38.5" font-family="'Liberation Sans', Arial, sans-serif" xml:space="preserve" font-weight="bold" >E</text>
<text x="1078.9" y="898.7" font-size="28" font-family="'Liberation Sans', Arial, sans-serif" xml:space="preserve" font-weight="bold" textLength="300.3" lengthAdjust="spacingAndGlyphs" >Cord Blood Monocytes</text>
<text x="1118.8" y="937.5" font-size="32.5" font-family="'Liberation Sans', Arial, sans-serif" xml:space="preserve" font-weight="bold" textLength="42.6" lengthAdjust="spacingAndGlyphs" >D+</text>
<text x="1295.9" y="937.5" font-size="32.5" font-family="'Liberation Sans', Arial, sans-serif" xml:space="preserve" font-weight="bold" textLength="34.1" lengthAdjust="spacingAndGlyphs" >D-</text>
<rect x="1047.0" y="944.5" width="167.5" height="7.7" fill="#000" />
<rect x="1228.0" y="944.5" width="167.8" height="7.7" fill="#000" />
<text x="1044.4" y="982.0" font-size="23" font-family="'Liberation Sans', Arial, sans-serif" xml:space="preserve" textLength="27.6" lengthAdjust="spacingAndGlyphs" >S3</text>
<text x="1077.3" y="982.0" font-size="23" font-family="'Liberation Sans', Arial, sans-serif" xml:space="preserve" textLength="28.4" lengthAdjust="spacingAndGlyphs" >S8</text>
<text x="1111.0" y="982.0" font-size="23" font-family="'Liberation Sans', Arial, sans-serif" xml:space="preserve" textLength="42.3" lengthAdjust="spacingAndGlyphs" >S10</text>
<text x="1158.3" y="982.0" font-size="23" font-family="'Liberation Sans', Arial, sans-serif" xml:space="preserve" textLength="42.3" lengthAdjust="spacingAndGlyphs" >S19</text>
<text x="1217.6" y="982.0" font-size="23" font-family="'Liberation Sans', Arial, sans-serif" xml:space="preserve" textLength="42.3" lengthAdjust="spacingAndGlyphs" >S16</text>
<text x="1265.2" y="982.0" font-size="23" font-family="'Liberation Sans', Arial, sans-serif" xml:space="preserve" textLength="43.1" lengthAdjust="spacingAndGlyphs" >S28</text>
<text x="1313.3" y="982.0" font-size="23" font-family="'Liberation Sans', Arial, sans-serif" xml:space="preserve" textLength="42.3" lengthAdjust="spacingAndGlyphs" >S29</text>
<text x="1360.9" y="982.0" font-size="23" font-family="'Liberation Sans', Arial, sans-serif" xml:space="preserve" textLength="42.3" lengthAdjust="spacingAndGlyphs" >S30</text>
<g><rect x="1040.7" y="987.9" width="364.8" height="52.0" fill="#dedede"/>
<rect x="1042.0" y="987.9" width="38.0" height="52.0" fill="#d4d4d4" filter="url(#bl2)"/>
<rect x="1088.0" y="987.9" width="37.0" height="52.0" fill="#d4d4d4" filter="url(#bl2)"/>
<rect x="1133.0" y="987.9" width="37.0" height="52.0" fill="#d4d4d4" filter="url(#bl2)"/>
<rect x="1179.0" y="987.9" width="38.0" height="52.0" fill="#d4d4d4" filter="url(#bl2)"/>
<rect x="1228.0" y="987.9" width="38.0" height="52.0" fill="#d8d8d8" filter="url(#bl2)"/>
<rect x="1276.0" y="987.9" width="37.0" height="52.0" fill="#d8d8d8" filter="url(#bl2)"/>
<rect x="1321.0" y="987.9" width="37.0" height="52.0" fill="#d8d8d8" filter="url(#bl2)"/>
<rect x="1367.0" y="987.9" width="36.0" height="52.0" fill="#d8d8d8" filter="url(#bl2)"/>
<rect x="1045.0" y="1008.5" width="33.0" height="8.0" rx="4.0" fill="#111" filter="url(#bl1)"/>
<rect x="1090.0" y="1008.5" width="33.0" height="8.0" rx="4.0" fill="#0a0a0a" filter="url(#bl1)"/>
<rect x="1135.0" y="1008.8" width="33.0" height="8.5" rx="4.2" fill="#0a0a0a" filter="url(#bl1)"/>
<rect x="1181.0" y="1009.5" width="34.0" height="8.5" rx="4.2" fill="#0a0a0a" filter="url(#bl1)"/>
<rect x="1231.0" y="1010.0" width="32.0" height="6.0" rx="3.0" fill="#777" filter="url(#bl1)"/>
<rect x="1278.0" y="1008.8" width="33.0" height="6.5" rx="3.2" fill="#5c5c5c" filter="url(#bl1)"/>
<rect x="1323.0" y="1008.5" width="33.0" height="6.0" rx="3.0" fill="#5e5e5e" filter="url(#bl1)"/>
<rect x="1369.0" y="1008.5" width="32.0" height="6.0" rx="3.0" fill="#5a5a5a" filter="url(#bl1)"/>
<rect x="1045.0" y="1003.0" width="33.0" height="6.0" rx="3.0" fill="#bdbdbd" filter="url(#bl3)"/>
<rect x="1090.0" y="1003.0" width="33.0" height="6.0" rx="3.0" fill="#b0b0b0" filter="url(#bl3)"/>
<rect x="1135.0" y="1003.0" width="33.0" height="6.0" rx="3.0" fill="#b0b0b0" filter="url(#bl3)"/>
<rect x="1181.0" y="1003.0" width="34.0" height="6.0" rx="3.0" fill="#b0b0b0" filter="url(#bl3)"/>
</g>
<g><rect x="1040.7" y="1046.0" width="364.8" height="51.4" fill="#a9a9a9"/>
<rect x="1040.7" y="1046.0" width="25.3" height="51.4" fill="#b2b2b2" filter="url(#bl2)"/>
<rect x="1228.0" y="1046.0" width="36.0" height="51.4" fill="#a2a2a2" filter="url(#bl2)"/>
<rect x="1275.0" y="1046.0" width="37.0" height="51.4" fill="#a2a2a2" filter="url(#bl2)"/>
<rect x="1320.0" y="1046.0" width="36.0" height="51.4" fill="#a2a2a2" filter="url(#bl2)"/>
<rect x="1367.0" y="1046.0" width="37.0" height="51.4" fill="#a6a6a6" filter="url(#bl2)"/>
<rect x="1045.0" y="1069.5" width="17.0" height="5.0" rx="2.5" fill="#707070" filter="url(#bl1)"/>
<rect x="1066.0" y="1066.0" width="14.0" height="5.0" rx="2.5" fill="#6a6a6a" filter="url(#bl1)"/>
<rect x="1090.0" y="1064.5" width="33.0" height="6.0" rx="3.0" fill="#606060" filter="url(#bl1)"/>
<rect x="1136.0" y="1067.8" width="14.0" height="4.5" rx="2.2" fill="#858585" filter="url(#bl1)"/>
<rect x="1156.0" y="1065.8" width="12.0" height="4.5" rx="2.2" fill="#858585" filter="url(#bl1)"/>
<rect x="1181.0" y="1068.0" width="14.0" height="4.0" rx="2.0" fill="#8a8a8a" filter="url(#bl1)"/>
<rect x="1200.0" y="1070.5" width="15.0" height="5.0" rx="2.5" fill="#6a6a6a" filter="url(#bl1)"/>
<rect x="1230.0" y="1069.5" width="33.0" height="7.0" rx="3.5" fill="#2a2a2a" filter="url(#bl1)"/>
<rect x="1277.0" y="1069.5" width="34.0" height="7.0" rx="3.5" fill="#1a1a1a" filter="url(#bl1)"/>
<rect x="1322.0" y="1069.2" width="33.0" height="6.5" rx="3.2" fill="#3a3a3a" filter="url(#bl1)"/>
<rect x="1369.0" y="1068.0" width="33.0" height="5.0" rx="2.5" fill="#707070" filter="url(#bl1)"/>
</g>
<g><rect x="1040.7" y="1106.5" width="364.8" height="51.5" fill="#d2d2d2"/>
<rect x="1044.0" y="1122.0" width="34.0" height="16.0" rx="6.0" fill="#000" filter="url(#bl1)"/>
<rect x="1088.0" y="1122.5" width="35.0" height="16.0" rx="6.0" fill="#000" filter="url(#bl1)"/>
<rect x="1133.5" y="1122.5" width="34.5" height="16.0" rx="6.0" fill="#000" filter="url(#bl1)"/>
<rect x="1179.0" y="1123.0" width="36.0" height="16.0" rx="6.0" fill="#000" filter="url(#bl1)"/>
<rect x="1228.0" y="1123.0" width="33.0" height="15.0" rx="6.0" fill="#000" filter="url(#bl1)"/>
<rect x="1273.0" y="1123.0" width="38.0" height="15.0" rx="6.0" fill="#000" filter="url(#bl1)"/>
<rect x="1320.0" y="1123.0" width="35.0" height="15.0" rx="6.0" fill="#000" filter="url(#bl1)"/>
<rect x="1366.0" y="1123.0" width="36.0" height="16.0" rx="6.0" fill="#000" filter="url(#bl1)"/>
<rect x="1040.7" y="1106.5" width="364.8" height="10" fill="#e2e2e2" filter="url(#bl2)"/>
</g>
<text x="1032.0" y="1025.8" font-size="27" font-family="'Liberation Sans', Arial, sans-serif" xml:space="preserve" text-anchor="end" textLength="75.5" lengthAdjust="spacingAndGlyphs" >Jarid2</text>
<text x="1032.0" y="1084.0" font-size="27" font-family="'Liberation Sans', Arial, sans-serif" text-anchor="end" textLength="92" lengthAdjust="spacingAndGlyphs">Pgc-1<tspan font-family="'Liberation Serif', serif" font-size="31">α</tspan></text>
<text x="1032.0" y="1146.7" font-size="27" font-family="'Liberation Sans', Arial, sans-serif" text-anchor="end" textLength="88" lengthAdjust="spacingAndGlyphs"><tspan font-family="'Liberation Serif', serif" font-size="31">β</tspan>-actin</text>
<g filter="url(#shd)"><path d="M1407.6 1011.1 L1428.6 1000.6 L1428.6 1009.2 L1449.0 1009.2 L1449.0 1013.0 L1428.6 1013.0 L1428.6 1021.6 Z" fill="#c00000"/></g>
<g filter="url(#shd)"><path d="M1407.6 1074.0 L1428.6 1063.5 L1428.6 1072.1 L1449.0 1072.1 L1449.0 1075.9 L1428.6 1075.9 L1428.6 1084.5 Z" fill="#c00000"/></g>
<g filter="url(#shd)"><path d="M1407.6 1135.1 L1428.6 1124.6 L1428.6 1133.2 L1449.0 1133.2 L1449.0 1137.0 L1428.6 1137.0 L1428.6 1145.6 Z" fill="#c00000"/></g>
<text x="1457.7" y="1015.6" font-size="27.5" font-family="'Liberation Sans', Arial, sans-serif" xml:space="preserve" textLength="95.4" lengthAdjust="spacingAndGlyphs" >150kDa</text>
<text x="1457.7" y="1082.8" font-size="27.5" font-family="'Liberation Sans', Arial, sans-serif" xml:space="preserve" textLength="95.4" lengthAdjust="spacingAndGlyphs" >100kDa</text>
<text x="1456.2" y="1143.8" font-size="27.5" font-family="'Liberation Sans', Arial, sans-serif" xml:space="preserve" textLength="80.9" lengthAdjust="spacingAndGlyphs" >50kDa</text>
<text x="9.2" y="1255.3" font-size="39" font-family="'Liberation Sans', Arial, sans-serif" xml:space="preserve" font-weight="bold" >F</text>
<line x1="245.3" y1="1242.3" x2="245.3" y2="1595.6" stroke="#505050" stroke-width="1.3" />
<line x1="236.9" y1="1595.6" x2="245.3" y2="1595.6" stroke="#505050" stroke-width="1.3" />
<text x="235.2" y="1604.4" font-size="27" font-family="'Liberation Sans', Arial, sans-serif" xml:space="preserve" text-anchor="end" textLength="14.6" lengthAdjust="spacingAndGlyphs" >0</text>
<line x1="236.9" y1="1507.5" x2="245.3" y2="1507.5" stroke="#505050" stroke-width="1.3" />
<text x="235.2" y="1516.3" font-size="27" font-family="'Liberation Sans', Arial, sans-serif" xml:space="preserve" text-anchor="end" textLength="14.6" lengthAdjust="spacingAndGlyphs" >5</text>
<line x1="236.9" y1="1419.4" x2="245.3" y2="1419.4" stroke="#505050" stroke-width="1.3" />
<text x="235.2" y="1428.2" font-size="27" font-family="'Liberation Sans', Arial, sans-serif" xml:space="preserve" text-anchor="end" textLength="28.0" lengthAdjust="spacingAndGlyphs" >10</text>
<line x1="236.9" y1="1331.3" x2="245.3" y2="1331.3" stroke="#505050" stroke-width="1.3" />
<text x="235.2" y="1340.1" font-size="27" font-family="'Liberation Sans', Arial, sans-serif" xml:space="preserve" text-anchor="end" textLength="28.0" lengthAdjust="spacingAndGlyphs" >15</text>
<line x1="236.9" y1="1243.2" x2="245.3" y2="1243.2" stroke="#505050" stroke-width="1.3" />
<text x="235.2" y="1252.0" font-size="27" font-family="'Liberation Sans', Arial, sans-serif" xml:space="preserve" text-anchor="end" textLength="28.0" lengthAdjust="spacingAndGlyphs" >20</text>
<line x1="245.3" y1="1595.6" x2="774.2" y2="1595.6" stroke="#606060" stroke-width="1.6" />
<text x="192.5" y="1593.8" font-size="29" font-family="'Liberation Sans', Arial, sans-serif" xml:space="preserve" font-weight="bold" textLength="364.8" lengthAdjust="spacingAndGlyphs" transform="rotate(-90 192.5 1593.8)" >Relative mRNA Expression</text>
<rect x="261.6" y="1239.8" width="39.2" height="19.6" fill="#80d24a" stroke="#222" stroke-width="0.9" />
<rect x="261.6" y="1269.2" width="39.2" height="19.6" fill="#02027e" stroke="#222" stroke-width="0.9" />
<text x="314.4" y="1258.1" font-size="23" font-family="'Liberation Sans', Arial, sans-serif" xml:space="preserve" textLength="101.7" lengthAdjust="spacingAndGlyphs" >Vit. D Suff</text>
<text x="316.8" y="1284.0" font-size="23" font-family="'Liberation Sans', Arial, sans-serif" xml:space="preserve" textLength="95.7" lengthAdjust="spacingAndGlyphs" >Vit. D Def</text>
<rect x="266.0" y="1579.0" width="39.4" height="16.6" fill="#80d24a" stroke="#222" stroke-width="1.0" />
<rect x="367.7" y="1579.0" width="39.4" height="16.6" fill="#80d24a" stroke="#222" stroke-width="1.0" />
<rect x="469.2" y="1579.0" width="39.0" height="16.6" fill="#80d24a" stroke="#222" stroke-width="1.0" />
<rect x="570.5" y="1578.7" width="39.7" height="16.9" fill="#80d24a" stroke="#222" stroke-width="1.0" />
<rect x="671.2" y="1579.6" width="39.8" height="16.0" fill="#80d24a" stroke="#222" stroke-width="1.0" />
<rect x="407.6" y="1510.0" width="40.0" height="85.6" fill="#02027e" stroke="#222" stroke-width="1.0" />
<rect x="509.4" y="1438.9" width="39.6" height="156.7" fill="#02027e" stroke="#222" stroke-width="1.0" />
<rect x="611.1" y="1395.8" width="39.6" height="199.8" fill="#02027e" stroke="#222" stroke-width="1.0" />
<rect x="712.1" y="1478.8" width="39.9" height="116.8" fill="#02027e" stroke="#222" stroke-width="1.0" />
<line x1="305.4" y1="1595.1" x2="347.0" y2="1595.1" stroke="#222" stroke-width="1.2" />
<line x1="285.8" y1="1573.5" x2="285.8" y2="1584.5" stroke="#111" stroke-width="1.3" />
<line x1="275.6" y1="1573.5" x2="296.0" y2="1573.5" stroke="#111" stroke-width="1.3" />
<line x1="275.6" y1="1584.5" x2="296.0" y2="1584.5" stroke="#111" stroke-width="1.3" />
<line x1="387.4" y1="1575.0" x2="387.4" y2="1583.0" stroke="#111" stroke-width="1.3" />
<line x1="377.2" y1="1575.0" x2="397.6" y2="1575.0" stroke="#111" stroke-width="1.3" />
<line x1="377.2" y1="1583.0" x2="397.6" y2="1583.0" stroke="#111" stroke-width="1.3" />
<line x1="488.7" y1="1575.3" x2="488.7" y2="1582.7" stroke="#111" stroke-width="1.3" />
<line x1="478.5" y1="1575.3" x2="498.9" y2="1575.3" stroke="#111" stroke-width="1.3" />
<line x1="478.5" y1="1582.7" x2="498.9" y2="1582.7" stroke="#111" stroke-width="1.3" />
<line x1="590.3" y1="1574.1" x2="590.3" y2="1583.3" stroke="#111" stroke-width="1.3" />
<line x1="580.1" y1="1574.1" x2="600.5" y2="1574.1" stroke="#111" stroke-width="1.3" />
<line x1="580.1" y1="1583.3" x2="600.5" y2="1583.3" stroke="#111" stroke-width="1.3" />
<line x1="691.1" y1="1574.4" x2="691.1" y2="1584.8" stroke="#111" stroke-width="1.3" />
<line x1="680.9" y1="1574.4" x2="701.3" y2="1574.4" stroke="#111" stroke-width="1.3" />
<line x1="680.9" y1="1584.8" x2="701.3" y2="1584.8" stroke="#111" stroke-width="1.3" />
<line x1="427.6" y1="1494.4" x2="427.6" y2="1523.6" stroke="#111" stroke-width="1.3" />
<line x1="417.4" y1="1494.4" x2="437.8" y2="1494.4" stroke="#111" stroke-width="1.3" />
<line x1="417.4" y1="1523.6" x2="437.8" y2="1523.6" stroke="#111" stroke-width="1.3" />
<line x1="529.2" y1="1425.6" x2="529.2" y2="1451.0" stroke="#111" stroke-width="1.3" />
<line x1="519.0" y1="1425.6" x2="539.4" y2="1425.6" stroke="#111" stroke-width="1.3" />
<line x1="519.0" y1="1451.0" x2="539.4" y2="1451.0" stroke="#111" stroke-width="1.3" />
<line x1="630.7" y1="1355.7" x2="630.7" y2="1434.9" stroke="#111" stroke-width="1.3" />
<line x1="620.5" y1="1355.7" x2="640.9" y2="1355.7" stroke="#111" stroke-width="1.3" />
<line x1="620.5" y1="1434.9" x2="640.9" y2="1434.9" stroke="#111" stroke-width="1.3" />
<line x1="732.3" y1="1463.0" x2="732.3" y2="1492.8" stroke="#111" stroke-width="1.3" />
<line x1="722.1" y1="1463.0" x2="742.5" y2="1463.0" stroke="#111" stroke-width="1.3" />
<line x1="722.1" y1="1492.8" x2="742.5" y2="1492.8" stroke="#111" stroke-width="1.3" />
<circle cx="277.2" cy="1573.0" r="3.70" fill="#fff" stroke="#000" stroke-width="1.9" />
<circle cx="294.1" cy="1568.4" r="3.70" fill="#fff" stroke="#000" stroke-width="1.9" />
<circle cx="277.2" cy="1587.1" r="3.70" fill="#fff" stroke="#000" stroke-width="1.9" />
<circle cx="294.1" cy="1585.3" r="3.70" fill="#fff" stroke="#000" stroke-width="1.9" />
<circle cx="310.5" cy="1595.3" r="3.70" fill="#fff" stroke="#000" stroke-width="1.9" />
<circle cx="321.2" cy="1594.8" r="3.70" fill="#fff" stroke="#000" stroke-width="1.9" />
<circle cx="331.9" cy="1595.3" r="3.70" fill="#fff" stroke="#000" stroke-width="1.9" />
<circle cx="342.6" cy="1595.3" r="3.70" fill="#fff" stroke="#000" stroke-width="1.9" />
<circle cx="378.9" cy="1576.2" r="3.70" fill="#fff" stroke="#000" stroke-width="1.9" />
<circle cx="395.6" cy="1569.9" r="3.70" fill="#fff" stroke="#000" stroke-width="1.9" />
<circle cx="378.9" cy="1586.2" r="3.70" fill="#fff" stroke="#000" stroke-width="1.9" />
<circle cx="395.6" cy="1581.3" r="3.70" fill="#fff" stroke="#000" stroke-width="1.9" />
<circle cx="411.6" cy="1526.3" r="3.70" fill="#fff" stroke="#000" stroke-width="1.9" />
<circle cx="428.0" cy="1521.8" r="3.70" fill="#fff" stroke="#000" stroke-width="1.9" />
<circle cx="443.7" cy="1523.6" r="3.70" fill="#fff" stroke="#000" stroke-width="1.9" />
<circle cx="427.6" cy="1465.5" r="3.70" fill="#fff" stroke="#000" stroke-width="1.9" />
<circle cx="472.8" cy="1572.6" r="3.70" fill="#fff" stroke="#000" stroke-width="1.9" />
<circle cx="488.8" cy="1575.3" r="3.70" fill="#fff" stroke="#000" stroke-width="1.9" />
<circle cx="504.8" cy="1579.9" r="3.70" fill="#fff" stroke="#000" stroke-width="1.9" />
<circle cx="472.8" cy="1585.7" r="3.70" fill="#fff" stroke="#000" stroke-width="1.9" />
<circle cx="529.2" cy="1402.5" r="3.70" fill="#fff" stroke="#000" stroke-width="1.9" />
<circle cx="529.2" cy="1438.9" r="3.70" fill="#fff" stroke="#000" stroke-width="1.9" />
<circle cx="520.9" cy="1456.1" r="3.70" fill="#fff" stroke="#000" stroke-width="1.9" />
<circle cx="537.6" cy="1455.7" r="3.70" fill="#fff" stroke="#000" stroke-width="1.9" />
<circle cx="590.2" cy="1566.9" r="3.70" fill="#fff" stroke="#000" stroke-width="1.9" />
<circle cx="590.2" cy="1579.6" r="3.70" fill="#fff" stroke="#000" stroke-width="1.9" />
<circle cx="574.1" cy="1583.2" r="3.70" fill="#fff" stroke="#000" stroke-width="1.9" />
<circle cx="606.2" cy="1583.2" r="3.70" fill="#fff" stroke="#000" stroke-width="1.9" />
<circle cx="630.7" cy="1291.8" r="3.70" fill="#fff" stroke="#000" stroke-width="1.9" />
<circle cx="630.7" cy="1382.6" r="3.70" fill="#fff" stroke="#000" stroke-width="1.9" />
<circle cx="630.7" cy="1432.5" r="3.70" fill="#fff" stroke="#000" stroke-width="1.9" />
<circle cx="630.7" cy="1475.2" r="3.70" fill="#fff" stroke="#000" stroke-width="1.9" />
<circle cx="675.2" cy="1573.2" r="3.70" fill="#fff" stroke="#000" stroke-width="1.9" />
<circle cx="691.6" cy="1574.1" r="3.70" fill="#fff" stroke="#000" stroke-width="1.9" />
<circle cx="707.9" cy="1580.5" r="3.70" fill="#fff" stroke="#000" stroke-width="1.9" />
<circle cx="675.2" cy="1585.0" r="3.70" fill="#fff" stroke="#000" stroke-width="1.9" />
<circle cx="732.3" cy="1440.1" r="3.70" fill="#fff" stroke="#000" stroke-width="1.9" />
<circle cx="723.9" cy="1478.8" r="3.70" fill="#fff" stroke="#000" stroke-width="1.9" />
<circle cx="740.6" cy="1480.6" r="3.70" fill="#fff" stroke="#000" stroke-width="1.9" />
<circle cx="732.3" cy="1512.8" r="3.70" fill="#fff" stroke="#000" stroke-width="1.9" />
<text transform="translate(322.6 1577.1) scale(0.9 1)" text-anchor="middle" font-size="30.7" font-weight="bold" font-family="'Liberation Sans', Arial, sans-serif">*</text>
<text transform="translate(421.0 1438.8) scale(0.9 1)" text-anchor="middle" font-size="29.3" font-weight="bold" font-family="'Liberation Sans', Arial, sans-serif">*</text>
<text transform="translate(434.8 1438.8) scale(0.9 1)" text-anchor="middle" font-size="29.3" font-weight="bold" font-family="'Liberation Sans', Arial, sans-serif">*</text>
<text transform="translate(516.0 1375.2) scale(0.9 1)" text-anchor="middle" font-size="29.3" font-weight="bold" font-family="'Liberation Sans', Arial, sans-serif">*</text>
<text transform="translate(529.4 1375.2) scale(0.9 1)" text-anchor="middle" font-size="29.3" font-weight="bold" font-family="'Liberation Sans', Arial, sans-serif">*</text>
<text transform="translate(543.0 1375.2) scale(0.9 1)" text-anchor="middle" font-size="29.3" font-weight="bold" font-family="'Liberation Sans', Arial, sans-serif">*</text>
<text transform="translate(622.5 1266.2) scale(0.9 1)" text-anchor="middle" font-size="29.3" font-weight="bold" font-family="'Liberation Sans', Arial, sans-serif">*</text>
<text transform="translate(636.0 1266.2) scale(0.9 1)" text-anchor="middle" font-size="29.3" font-weight="bold" font-family="'Liberation Sans', Arial, sans-serif">*</text>
<text transform="translate(718.5 1408.8) scale(0.9 1)" text-anchor="middle" font-size="29.3" font-weight="bold" font-family="'Liberation Sans', Arial, sans-serif">*</text>
<text transform="translate(732.0 1408.8) scale(0.9 1)" text-anchor="middle" font-size="29.3" font-weight="bold" font-family="'Liberation Sans', Arial, sans-serif">*</text>
<text transform="translate(745.4 1408.8) scale(0.9 1)" text-anchor="middle" font-size="29.3" font-weight="bold" font-family="'Liberation Sans', Arial, sans-serif">*</text>
<text x="266.6" y="1624.4" font-size="25.5" font-family="'Liberation Sans', Arial, sans-serif" xml:space="preserve" font-style="italic" textLength="77.9" lengthAdjust="spacingAndGlyphs" >Jarid 2</text>
<text x="372.9" y="1624.4" font-size="25.5" font-family="'Liberation Sans', Arial, sans-serif" xml:space="preserve" font-style="italic" textLength="71.8" lengthAdjust="spacingAndGlyphs" >Mef2b</text>
<text x="453.7" y="1624.4" font-size="25.5" font-family="'Liberation Sans', Arial, sans-serif" xml:space="preserve" font-style="italic" textLength="110.0" lengthAdjust="spacingAndGlyphs" >Ppargc1a</text>
<text x="588.7" y="1624.4" font-size="25.5" font-family="'Liberation Sans', Arial, sans-serif" xml:space="preserve" font-style="italic" textLength="46.1" lengthAdjust="spacingAndGlyphs" >Nrf1</text>
<text x="681.9" y="1624.4" font-size="25.5" font-family="'Liberation Sans', Arial, sans-serif" xml:space="preserve" font-style="italic" textLength="69.1" lengthAdjust="spacingAndGlyphs" >Pparb</text>
<text x="880.9" y="1218.0" font-size="39" font-family="'Liberation Sans', Arial, sans-serif" xml:space="preserve" font-weight="bold" >G</text>
<line x1="1118.7" y1="1255.0" x2="1118.7" y2="1316.8" stroke="#000" stroke-width="2" />
<line x1="1118.7" y1="1346.2" x2="1118.7" y2="1590.3" stroke="#000" stroke-width="2" />
<line x1="1110.0" y1="1255.8" x2="1118.7" y2="1255.8" stroke="#000" stroke-width="2" />
<text x="1104.6" y="1265.4" font-size="26" font-family="'Liberation Sans', Arial, sans-serif" xml:space="preserve" text-anchor="end" >130</text>
<line x1="1110.0" y1="1316.8" x2="1127.8" y2="1316.8" stroke="#000" stroke-width="2" />
<text x="1104.6" y="1326.4" font-size="26" font-family="'Liberation Sans', Arial, sans-serif" xml:space="preserve" text-anchor="end" >110</text>
<line x1="1110.0" y1="1346.2" x2="1127.8" y2="1346.2" stroke="#000" stroke-width="2" />
<text x="1104.6" y="1355.8" font-size="26" font-family="'Liberation Sans', Arial, sans-serif" xml:space="preserve" text-anchor="end" >60</text>
<line x1="1110.0" y1="1590.3" x2="1118.7" y2="1590.3" stroke="#000" stroke-width="2" />
<text x="1104.6" y="1599.9" font-size="26" font-family="'Liberation Sans', Arial, sans-serif" xml:space="preserve" text-anchor="end" >0</text>
<line x1="1110.0" y1="1509.2" x2="1118.7" y2="1509.2" stroke="#000" stroke-width="2" />
<text x="1104.6" y="1518.8" font-size="26" font-family="'Liberation Sans', Arial, sans-serif" xml:space="preserve" text-anchor="end" >20</text>
<line x1="1110.0" y1="1428.1" x2="1118.7" y2="1428.1" stroke="#000" stroke-width="2" />
<text x="1104.6" y="1437.7" font-size="26" font-family="'Liberation Sans', Arial, sans-serif" xml:space="preserve" text-anchor="end" >40</text>
<line x1="1110.0" y1="1590.3" x2="1621.3" y2="1590.3" stroke="#000" stroke-width="2" />
<line x1="1119.1" y1="1590.3" x2="1119.1" y2="1599.8" stroke="#000" stroke-width="2" />
<text x="1119.1" y="1629.4" font-size="26" font-family="'Liberation Sans', Arial, sans-serif" xml:space="preserve" text-anchor="middle" >0</text>
<line x1="1244.4" y1="1590.3" x2="1244.4" y2="1599.8" stroke="#000" stroke-width="2" />
<text x="1244.4" y="1629.4" font-size="26" font-family="'Liberation Sans', Arial, sans-serif" xml:space="preserve" text-anchor="middle" >10</text>
<line x1="1369.7" y1="1590.3" x2="1369.7" y2="1599.8" stroke="#000" stroke-width="2" />
<text x="1369.7" y="1629.4" font-size="26" font-family="'Liberation Sans', Arial, sans-serif" xml:space="preserve" text-anchor="middle" >20</text>
<line x1="1495.0" y1="1590.3" x2="1495.0" y2="1599.8" stroke="#000" stroke-width="2" />
<text x="1495.0" y="1629.4" font-size="26" font-family="'Liberation Sans', Arial, sans-serif" xml:space="preserve" text-anchor="middle" >30</text>
<line x1="1620.3" y1="1590.3" x2="1620.3" y2="1599.8" stroke="#000" stroke-width="2" />
<text x="1620.3" y="1629.4" font-size="26" font-family="'Liberation Sans', Arial, sans-serif" xml:space="preserve" text-anchor="middle" >40</text>
<text x="1023.7" y="1626.8" font-size="27.7" font-family="'Liberation Sans', Arial, sans-serif" xml:space="preserve" font-weight="bold" textLength="418.8" lengthAdjust="spacingAndGlyphs" transform="rotate(-90 1023.7 1626.8)" >Relative miR106b-5p Expression</text>
<text x="1057.5" y="1495.8" font-size="27.7" font-family="'Liberation Sans', Arial, sans-serif" xml:space="preserve" font-weight="bold" textLength="149.9" lengthAdjust="spacingAndGlyphs" transform="rotate(-90 1057.5 1495.8)" >Cord Blood</text>
<text x="1251.3" y="1668.1" font-size="28" font-family="'Liberation Sans', Arial, sans-serif" xml:space="preserve" font-weight="bold" textLength="236.3" lengthAdjust="spacingAndGlyphs" >Serum Cord Blood</text>
<text x="1220.8" y="1702.0" font-size="28" font-family="'Liberation Sans', Arial, sans-serif" xml:space="preserve" font-weight="bold" textLength="296.3" lengthAdjust="spacingAndGlyphs" >25(OH)D Level  (ng/mL)</text>
<circle cx="1206.6" cy="1273.2" r="6.40" fill="#000" />
<circle cx="1181.7" cy="1307.2" r="6.40" fill="#000" />
<circle cx="1231.6" cy="1368.6" r="6.40" fill="#000" />
<circle cx="1231.6" cy="1392.2" r="6.40" fill="#000" />
<circle cx="1256.7" cy="1392.2" r="6.40" fill="#000" />
<circle cx="1181.7" cy="1431.0" r="6.40" fill="#000" />
<circle cx="1181.7" cy="1486.6" r="6.40" fill="#000" />
<circle cx="1206.6" cy="1502.0" r="6.40" fill="#000" />
<circle cx="1181.7" cy="1521.5" r="6.40" fill="#000" />
<circle cx="1181.7" cy="1528.7" r="6.40" fill="#000" />
<circle cx="1169.0" cy="1567.8" r="6.40" fill="#000" />
<circle cx="1181.7" cy="1566.3" r="6.40" fill="#000" />
<circle cx="1231.6" cy="1554.1" r="6.40" fill="#000" />
<circle cx="1269.2" cy="1486.0" r="6.40" fill="#000" />
<circle cx="1269.2" cy="1566.9" r="6.40" fill="#000" />
<circle cx="1281.6" cy="1585.5" r="6.40" fill="#000" />
<circle cx="1294.6" cy="1543.8" r="6.40" fill="#000" />
<circle cx="1307.0" cy="1473.3" r="6.40" fill="#000" />
<circle cx="1307.0" cy="1488.8" r="6.40" fill="#000" />
<circle cx="1307.0" cy="1587.7" r="6.40" fill="#000" />
<circle cx="1319.3" cy="1527.3" r="6.40" fill="#000" />
<circle cx="1332.0" cy="1563.8" r="6.40" fill="#000" />
<circle cx="1356.9" cy="1561.4" r="6.40" fill="#000" />
<circle cx="1356.9" cy="1588.6" r="6.40" fill="#000" />
<circle cx="1382.0" cy="1576.1" r="6.40" fill="#000" />
<circle cx="1394.6" cy="1588.2" r="6.40" fill="#000" />
<circle cx="1419.8" cy="1583.4" r="6.40" fill="#000" />
<circle cx="1419.8" cy="1590.6" r="6.40" fill="#000" />
<circle cx="1469.7" cy="1587.7" r="6.40" fill="#000" />
<circle cx="1569.9" cy="1585.3" r="6.40" fill="#000" />
<line x1="1167.7" y1="1430.7" x2="1443.5" y2="1590.0" stroke="#000" stroke-width="4.2" stroke-linecap="round"/>
<rect x="1365.1" y="1246.9" width="244.0" height="113.2" fill="#fff" stroke="#000" stroke-width="3" />
<text x="1487.1" y="1278.3" font-size="26" font-family="'Liberation Sans', Arial, sans-serif" xml:space="preserve" text-anchor="middle" >n = 30</text>
<text x="1487.1" y="1312.2" font-size="26" font-family="'Liberation Sans', Arial, sans-serif" xml:space="preserve" text-anchor="middle" textLength="229.0" lengthAdjust="spacingAndGlyphs" >Spearman r = -0.61</text>
<text x="1487.1" y="1345.6" font-size="26" font-family="'Liberation Sans', Arial, sans-serif" xml:space="preserve" text-anchor="middle" >P-value = 0.0003</text>
<text x="8.3" y="1769.8" font-size="37" font-family="'Liberation Sans', Arial, sans-serif" xml:space="preserve" font-weight="bold" >H</text>
<line x1="265.6" y1="1923.6" x2="265.6" y2="2277.0" stroke="#333" stroke-width="1.5" />
<line x1="256.7" y1="2277.0" x2="265.6" y2="2277.0" stroke="#333" stroke-width="1.5" />
<text x="250.4" y="2286.0" font-size="25.5" font-family="'Liberation Sans', Arial, sans-serif" xml:space="preserve" text-anchor="end" textLength="14.2" lengthAdjust="spacingAndGlyphs" >0</text>
<line x1="256.7" y1="2206.4" x2="265.6" y2="2206.4" stroke="#333" stroke-width="1.5" />
<text x="250.4" y="2215.4" font-size="25.5" font-family="'Liberation Sans', Arial, sans-serif" xml:space="preserve" text-anchor="end" textLength="14.2" lengthAdjust="spacingAndGlyphs" >2</text>
<line x1="256.7" y1="2135.8" x2="265.6" y2="2135.8" stroke="#333" stroke-width="1.5" />
<text x="250.4" y="2144.8" font-size="25.5" font-family="'Liberation Sans', Arial, sans-serif" xml:space="preserve" text-anchor="end" textLength="14.2" lengthAdjust="spacingAndGlyphs" >4</text>
<line x1="256.7" y1="2065.2" x2="265.6" y2="2065.2" stroke="#333" stroke-width="1.5" />
<text x="250.4" y="2074.2" font-size="25.5" font-family="'Liberation Sans', Arial, sans-serif" xml:space="preserve" text-anchor="end" textLength="14.2" lengthAdjust="spacingAndGlyphs" >6</text>
<line x1="256.7" y1="1994.6" x2="265.6" y2="1994.6" stroke="#333" stroke-width="1.5" />
<text x="250.4" y="2003.6" font-size="25.5" font-family="'Liberation Sans', Arial, sans-serif" xml:space="preserve" text-anchor="end" textLength="14.2" lengthAdjust="spacingAndGlyphs" >8</text>
<line x1="256.7" y1="1924.0" x2="265.6" y2="1924.0" stroke="#333" stroke-width="1.5" />
<text x="250.4" y="1933.0" font-size="25.5" font-family="'Liberation Sans', Arial, sans-serif" xml:space="preserve" text-anchor="end" textLength="28.4" lengthAdjust="spacingAndGlyphs" >10</text>
<line x1="265.6" y1="2277.0" x2="632.7" y2="2277.0" stroke="#222" stroke-width="1.6" />
<text x="164.4" y="2263.4" font-size="30" font-family="'Liberation Sans', Arial, sans-serif" xml:space="preserve" font-weight="bold" textLength="338.5" lengthAdjust="spacingAndGlyphs" transform="rotate(-90 164.4 2263.4)" >Adipocytes 2-DG Uptake</text>
<text x="199.6" y="2361.2" font-size="30" font-family="'Liberation Sans', Arial, sans-serif" xml:space="preserve" font-weight="bold" textLength="556.1" lengthAdjust="spacingAndGlyphs" transform="rotate(-90 199.6 2361.2)" >(Fold Differences after insulin Stimulation)</text>
<rect x="294.5" y="2124.4" width="55.2" height="152.6" fill="#80d24a" stroke="#111" stroke-width="1.4" />
<rect x="379.2" y="2106.5" width="55.2" height="170.5" fill="#d9fcc0" stroke="#111" stroke-width="1.4" />
<rect x="464.1" y="2142.1" width="55.4" height="134.9" fill="#c2defb" stroke="#111" stroke-width="1.4" />
<rect x="548.7" y="2215.7" width="55.2" height="61.3" fill="#02027e" stroke="#111" stroke-width="1.4" />
<line x1="322.1" y1="2114.8" x2="322.1" y2="2124.4" stroke="#111" stroke-width="1.4" />
<line x1="307.8" y1="2114.8" x2="336.4" y2="2114.8" stroke="#111" stroke-width="1.4" />
<line x1="406.8" y1="2088.8" x2="406.8" y2="2106.5" stroke="#111" stroke-width="1.4" />
<line x1="392.4" y1="2088.8" x2="421.2" y2="2088.8" stroke="#111" stroke-width="1.4" />
<line x1="491.7" y1="2124.9" x2="491.7" y2="2142.1" stroke="#111" stroke-width="1.4" />
<line x1="477.5" y1="2124.9" x2="505.9" y2="2124.9" stroke="#111" stroke-width="1.4" />
<line x1="576.3" y1="2207.9" x2="576.3" y2="2215.7" stroke="#111" stroke-width="1.4" />
<line x1="561.9" y1="2207.9" x2="590.7" y2="2207.9" stroke="#111" stroke-width="1.4" />
<circle cx="322.1" cy="2095.0" r="4.50" fill="#fff" stroke="#000" stroke-width="2.3" />
<circle cx="322.1" cy="2101.0" r="4.50" fill="#fff" stroke="#000" stroke-width="2.3" />
<circle cx="322.1" cy="2107.8" r="4.50" fill="#fff" stroke="#000" stroke-width="2.3" />
<circle cx="322.1" cy="2136.4" r="4.50" fill="#fff" stroke="#000" stroke-width="2.3" />
<circle cx="322.1" cy="2139.4" r="4.50" fill="#fff" stroke="#000" stroke-width="2.3" />
<circle cx="322.1" cy="2155.5" r="4.50" fill="#fff" stroke="#000" stroke-width="2.3" />
<circle cx="406.8" cy="2047.6" r="4.50" fill="#fff" stroke="#000" stroke-width="2.3" />
<circle cx="406.8" cy="2069.2" r="4.50" fill="#fff" stroke="#000" stroke-width="2.3" />
<circle cx="406.8" cy="2104.2" r="4.50" fill="#fff" stroke="#000" stroke-width="2.3" />
<circle cx="406.8" cy="2117.0" r="4.50" fill="#fff" stroke="#000" stroke-width="2.3" />
<circle cx="406.8" cy="2132.0" r="4.50" fill="#fff" stroke="#000" stroke-width="2.3" />
<circle cx="406.8" cy="2164.7" r="4.50" fill="#fff" stroke="#000" stroke-width="2.3" />
<circle cx="491.7" cy="2079.1" r="4.50" fill="#fff" stroke="#000" stroke-width="2.3" />
<circle cx="491.7" cy="2115.9" r="4.50" fill="#fff" stroke="#000" stroke-width="2.3" />
<circle cx="491.7" cy="2134.1" r="4.50" fill="#fff" stroke="#000" stroke-width="2.3" />
<circle cx="491.7" cy="2154.3" r="4.50" fill="#fff" stroke="#000" stroke-width="2.3" />
<circle cx="491.7" cy="2183.5" r="4.50" fill="#fff" stroke="#000" stroke-width="2.3" />
<circle cx="576.3" cy="2189.3" r="4.50" fill="#fff" stroke="#000" stroke-width="2.3" />
<circle cx="576.3" cy="2192.3" r="4.50" fill="#fff" stroke="#000" stroke-width="2.3" />
<circle cx="576.3" cy="2203.8" r="4.50" fill="#fff" stroke="#000" stroke-width="2.3" />
<circle cx="576.3" cy="2208.4" r="4.50" fill="#fff" stroke="#000" stroke-width="2.3" />
<circle cx="576.3" cy="2220.3" r="4.50" fill="#fff" stroke="#000" stroke-width="2.3" />
<circle cx="576.3" cy="2231.8" r="4.50" fill="#fff" stroke="#000" stroke-width="2.3" />
<circle cx="576.3" cy="2244.0" r="4.50" fill="#fff" stroke="#000" stroke-width="2.3" />
<rect x="285.6" y="1856.7" width="45.3" height="22.0" fill="#80d24a" stroke="#222" stroke-width="1.1" />
<rect x="285.6" y="1888.8" width="45.3" height="22.0" fill="#d9fcc0" stroke="#222" stroke-width="1.1" />
<rect x="288.1" y="1919.6" width="45.0" height="21.8" fill="#c2defb" stroke="#222" stroke-width="1.1" />
<rect x="288.1" y="1950.8" width="45.0" height="22.0" fill="#02027e" stroke="#222" stroke-width="1.1" />
<text x="348.6" y="1875.3" font-size="27" font-family="'Liberation Sans', Arial, sans-serif" xml:space="preserve" textLength="167.7" lengthAdjust="spacingAndGlyphs" >VD Suff Media</text>
<text x="348.6" y="1907.7" font-size="27" font-family="'Liberation Sans', Arial, sans-serif" xml:space="preserve" textLength="329.8" lengthAdjust="spacingAndGlyphs" >VD Suff MediaAnti-miR106b</text>
<text x="348.6" y="1938.5" font-size="27" font-family="'DejaVu Sans', sans-serif" xml:space="preserve" textLength="360.4" lengthAdjust="spacingAndGlyphs" >VD Def Media Anti−miR106b</text>
<text x="348.6" y="1969.0" font-size="27" font-family="'Liberation Sans', Arial, sans-serif" xml:space="preserve" textLength="163.0" lengthAdjust="spacingAndGlyphs" >VD Def Media</text>
<line x1="319.6" y1="2007.5" x2="584.6" y2="2007.5" stroke="#000" stroke-width="2.0" />
<line x1="403.6" y1="2032.0" x2="584.6" y2="2032.0" stroke="#000" stroke-width="2.0" />
<line x1="492.1" y1="2062.5" x2="584.6" y2="2062.5" stroke="#000" stroke-width="2.0" />
<text transform="translate(541.3 2012.3) scale(0.9 1)" text-anchor="middle" font-size="38.1" font-weight="bold" font-family="'Liberation Sans', Arial, sans-serif">*</text>
<text transform="translate(559.5 2012.3) scale(0.9 1)" text-anchor="middle" font-size="38.1" font-weight="bold" font-family="'Liberation Sans', Arial, sans-serif">*</text>
<text transform="translate(577.9 2012.3) scale(0.9 1)" text-anchor="middle" font-size="38.1" font-weight="bold" font-family="'Liberation Sans', Arial, sans-serif">*</text>
<text transform="translate(540.1 2041.1) scale(0.9 1)" text-anchor="middle" font-size="38.1" font-weight="bold" font-family="'Liberation Sans', Arial, sans-serif">*</text>
<text transform="translate(558.3 2041.1) scale(0.9 1)" text-anchor="middle" font-size="38.1" font-weight="bold" font-family="'Liberation Sans', Arial, sans-serif">*</text>
<text transform="translate(576.7 2041.1) scale(0.9 1)" text-anchor="middle" font-size="38.1" font-weight="bold" font-family="'Liberation Sans', Arial, sans-serif">*</text>
<text transform="translate(559.2 2072.1) scale(0.9 1)" text-anchor="middle" font-size="38.1" font-weight="bold" font-family="'Liberation Sans', Arial, sans-serif">*</text>
<text transform="translate(577.4 2072.1) scale(0.9 1)" text-anchor="middle" font-size="38.1" font-weight="bold" font-family="'Liberation Sans', Arial, sans-serif">*</text>
<text x="904.5" y="1775.4" font-size="37" font-family="'Liberation Sans', Arial, sans-serif" xml:space="preserve" >I</text>
<text x="1088.8" y="1815.7" font-size="23.5" font-family="'Liberation Sans', Arial, sans-serif" xml:space="preserve" textLength="96.8" lengthAdjust="spacingAndGlyphs" fill="#111" stroke="#111" stroke-width="0.35">Maternal</text>
<text x="1084.8" y="1842.9" font-size="23.5" font-family="'Liberation Sans', Arial, sans-serif" xml:space="preserve" textLength="105.3" lengthAdjust="spacingAndGlyphs" fill="#111" stroke="#111" stroke-width="0.35">Vitamin D</text>
<text x="1081.2" y="1869.8" font-size="23.5" font-family="'Liberation Sans', Arial, sans-serif" xml:space="preserve" textLength="112.0" lengthAdjust="spacingAndGlyphs" fill="#111" stroke="#111" stroke-width="0.35">Deficiency</text>
<line x1="1232.5" y1="1847.4" x2="1288.0" y2="1847.4" stroke="#222" stroke-width="2.6" />
<path d="M1302.1 1847.4 L1285.5 1840.0 L1285.5 1854.8 Z" fill="#222" />
<path d="M1136.6 1881.6 L1143.1 1893.1 L1130.1 1893.1 Z M1165.9 1893.8 L1162.4 1906.5 L1153.2 1897.3 Z M1178.1 1923.1 L1166.6 1929.6 L1166.6 1916.6 Z M1165.9 1952.4 L1153.2 1948.9 L1162.4 1939.7 Z M1136.6 1964.6 L1130.1 1953.1 L1143.1 1953.1 Z M1107.3 1952.4 L1110.8 1939.7 L1120.0 1948.9 Z M1095.1 1923.1 L1106.6 1916.6 L1106.6 1929.6 Z M1107.3 1893.8 L1120.0 1897.3 L1110.8 1906.5 Z " fill="#f7d35c" />
<circle cx="1136.6" cy="1923.1" r="27.20" fill="#f7d35c" />
<circle cx="1336.3" cy="1781.0" r="5.40" fill="#343d6f" />
<circle cx="1354.2" cy="1782.3" r="14.60" fill="#fff" />
<circle cx="1354.2" cy="1782.3" r="13.80" fill="#343d6f" />
<path d="M1345.5 1801 C1348 1797.5, 1358 1797, 1362 1799 C1366 1802, 1370 1811, 1374 1818 C1383 1823, 1390 1831, 1388.5 1842 C1387 1852, 1381 1858, 1380.5 1866 L1380 1875.5 L1369.8 1876.5 L1369.3 1921 C1374 1922, 1378 1923, 1377.8 1926.5 L1358.5 1926.5 L1357 1876.5 L1348.5 1876.5 C1345 1868, 1343 1855, 1344.5 1846 C1338 1842, 1333 1834, 1334.2 1827.6 C1336 1820, 1341 1812, 1345.5 1806 Z" fill="#343d6f" />
<path d="M1357 1805.5 C1352 1812, 1345 1820, 1342.5 1827.5 C1347 1833, 1353 1837, 1355 1843 C1355 1849.5, 1349 1849.5, 1348.5 1843.5" fill="none" stroke="#e8e8f0" stroke-width="1.3" />
<ellipse cx="1375.6" cy="1840.0" rx="8.40" ry="12.60" fill="#fff" transform="rotate(35 1375.6 1840)"/>
<ellipse cx="1376.5" cy="1842.5" rx="5.60" ry="8.20" fill="#343d6f" transform="rotate(35 1376.5 1842.5)"/>
<path d="M1372 1834 L1376 1838 L1373 1839" fill="none" stroke="#fff" stroke-width="0.9" />
<path d="M1517 1832 C1536 1834, 1546 1841, 1536 1845.5 C1526 1849, 1502 1847.5, 1483 1847.8" fill="none" stroke="#d6d6d6" stroke-width="2.4" />
<ellipse cx="1457.0" cy="1840.6" rx="5.50" ry="2.20" fill="#e8e8e8" stroke="#cdcdcd" stroke-width="0.8" />
<ellipse cx="1499.0" cy="1841.2" rx="5.50" ry="2.20" fill="#e8e8e8" stroke="#cdcdcd" stroke-width="0.8" />
<path d="M1436.5 1815.5 C1440 1809, 1450 1803.5, 1462 1802.5 C1476 1801, 1495 1802, 1508 1806 C1518 1810, 1523 1820, 1520 1830 C1517 1838, 1505 1840, 1490 1840 L1466 1839.5 C1460 1839, 1455 1836.5, 1452 1833 C1447 1828, 1440 1822, 1436.5 1815.5 Z" fill="#e8e8e8" stroke="#cdcdcd" stroke-width="0.9" />
<ellipse cx="1463.8" cy="1810.5" rx="3.40" ry="5.00" fill="#d2d2d2" stroke="#c4c4c4" stroke-width="0.6" />
<circle cx="1449.0" cy="1813.6" r="1.10" fill="#777" />
<ellipse cx="1491.5" cy="1828.5" rx="13.00" ry="7.00" fill="#e9b8bc" />
<line x1="1485.9" y1="1830.8" x2="1479.3" y2="1829.4" stroke="#b8282e" stroke-width="3.2" />
<line x1="1487.5" y1="1829.4" x2="1482.8" y2="1826.4" stroke="#b8282e" stroke-width="3.2" />
<line x1="1490.0" y1="1828.6" x2="1488.4" y2="1824.7" stroke="#b8282e" stroke-width="3.2" />
<line x1="1493.0" y1="1828.6" x2="1494.6" y2="1824.7" stroke="#b8282e" stroke-width="3.2" />
<line x1="1495.5" y1="1829.4" x2="1500.2" y2="1826.4" stroke="#b8282e" stroke-width="3.2" />
<line x1="1497.1" y1="1830.8" x2="1503.7" y2="1829.4" stroke="#b8282e" stroke-width="3.2" />
<line x1="1391.4" y1="1844.4" x2="1385.4" y2="1892.8" stroke="#555" stroke-width="1.1" stroke-dasharray="3 2.2"/>
<line x1="1391.4" y1="1844.4" x2="1442.9" y2="1861.1" stroke="#555" stroke-width="1.1" stroke-dasharray="3 2.2"/>
<line x1="1492.8" y1="1835.3" x2="1445.9" y2="1861.1" stroke="#555" stroke-width="1.1" stroke-dasharray="3 2.2"/>
<line x1="1492.8" y1="1835.3" x2="1486.7" y2="1895.9" stroke="#555" stroke-width="1.1" stroke-dasharray="3 2.2"/>
<defs><clipPath id="zc"><circle cx="1435.3" cy="1911.0" r="51.5"/></clipPath></defs>
<circle cx="1435.3" cy="1911.0" r="51.50" fill="#fbe4e6" />
<g clip-path="url(#zc)">
<circle cx="1438.3" cy="1865.6" r="19.00" fill="#f8d4d7" stroke="#e8a8ae" stroke-width="0.8" />
<circle cx="1393.0" cy="1921.6" r="16.00" fill="#f8d6d9" stroke="#e8a8ae" stroke-width="0.8" />
<circle cx="1482.0" cy="1921.6" r="16.00" fill="#f8d6d9" stroke="#e8a8ae" stroke-width="0.8" />
<circle cx="1394.4" cy="1891.3" r="20.00" fill="#f4c2c6" stroke="#e8a8ae" stroke-width="0.8" />
<circle cx="1447.4" cy="1908.0" r="22.00" fill="#f3bfc3" stroke="#e8a8ae" stroke-width="0.8" />
<circle cx="1435.3" cy="1940.2" r="21.00" fill="#f2bcc1" stroke="#e8a8ae" stroke-width="0.8" />
<circle cx="1397.5" cy="1892.8" r="5.00" fill="#e69aa1" />
<circle cx="1448.4" cy="1911.0" r="6.50" fill="#e69aa1" />
<circle cx="1436.8" cy="1940.2" r="6.50" fill="#e69aa1" />
</g>
<circle cx="1435.3" cy="1911.0" r="51.50" fill="none" stroke="#666" stroke-width="1.2" />
<path d="M1294.3 1938.2 C1306.4 1938.7 1326.1 1941.0 1339.7 1944.5 C1353.3 1948.0 1365.5 1952.7 1376.1 1959.1 C1386.7 1965.5 1395.4 1973.0 1403.3 1982.7 C1411.2 1992.4 1418.9 2004.8 1423.3 2017.2 C1427.7 2029.6 1429.3 2043.8 1429.6 2057.1 C1429.9 2070.4 1428.6 2084.7 1425.1 2097.1 C1421.6 2109.5 1417.0 2121.0 1408.8 2131.6 C1400.6 2142.2 1389.1 2152.4 1376.1 2160.6 C1363.1 2168.8 1346.5 2176.0 1330.7 2180.6 C1315.0 2185.2 1297.6 2187.6 1281.6 2187.9 C1265.5 2188.2 1248.9 2186.4 1234.4 2182.4 C1219.9 2178.4 1206.0 2172.1 1194.5 2164.2 C1183.0 2156.3 1172.5 2146.1 1165.4 2135.2 C1158.3 2124.3 1153.8 2111.3 1151.8 2098.9 C1149.8 2086.5 1150.7 2073.1 1153.6 2060.7 C1156.5 2048.3 1161.7 2036.5 1169.1 2024.4 C1176.5 2012.3 1187.2 1999.3 1198.1 1988.1 C1209.0 1976.9 1222.9 1964.9 1234.4 1957.2 C1245.9 1949.5 1257.1 1945.0 1267.1 1941.8 C1277.1 1938.6 1282.2 1937.8 1294.3 1938.2 Z" fill="#f6c8cb" stroke="#d9878c" stroke-width="2.2" />
<ellipse cx="1294.0" cy="2044.5" rx="85.50" ry="80.00" fill="#ebabae" stroke="#e09a9f" stroke-width="1.0" />
<path d="M1236.5 1991.0 C1239.6 1993.6 1259.2 2004.4 1259.5 2010.5 C1259.8 2016.6 1238.5 2030.2 1238.5 2036.5 C1238.5 2042.8 1259.7 2051.2 1259.5 2057.5 C1259.3 2063.8 1240.0 2080.0 1237.0 2083.5 " fill="none" stroke="#111" stroke-width="4.4" />
<path d="M1236.5 1991.0 C1239.6 1993.6 1259.2 2004.4 1259.5 2010.5 C1259.8 2016.6 1238.5 2030.2 1238.5 2036.5 C1238.5 2042.8 1259.7 2051.2 1259.5 2057.5 C1259.3 2063.8 1240.0 2080.0 1237.0 2083.5 " fill="none" stroke="#6a5a5c" stroke-width="1.2" stroke-dasharray="2 2.5"/>
<circle cx="1270.2" cy="1994.6" r="15.50" fill="#2d80b5" stroke="#1f6596" stroke-width="1.2" />
<text x="1270.2" y="1999.4" font-size="13.5" font-family="'Liberation Sans', Arial, sans-serif" xml:space="preserve" font-weight="bold" text-anchor="middle" textLength="20.0" lengthAdjust="spacingAndGlyphs" fill="#fff" >Me</text>
<circle cx="1231.0" cy="2060.4" r="15.50" fill="#2d80b5" stroke="#1f6596" stroke-width="1.2" />
<text x="1231.0" y="2065.2" font-size="13.5" font-family="'Liberation Sans', Arial, sans-serif" xml:space="preserve" font-weight="bold" text-anchor="middle" textLength="20.0" lengthAdjust="spacingAndGlyphs" fill="#fff" >Me</text>
<circle cx="1264.0" cy="2086.6" r="15.50" fill="#2d80b5" stroke="#1f6596" stroke-width="1.2" />
<text x="1264.0" y="2091.4" font-size="13.5" font-family="'Liberation Sans', Arial, sans-serif" xml:space="preserve" font-weight="bold" text-anchor="middle" textLength="20.0" lengthAdjust="spacingAndGlyphs" fill="#fff" >Me</text>
<text x="1291.1" y="2024.6" font-size="20" font-family="'Liberation Sans', Arial, sans-serif" xml:space="preserve" textLength="59.1" lengthAdjust="spacingAndGlyphs" fill="#111" stroke="#111" stroke-width="0.35">Jarid2</text>
<text x="1265.0" y="2049.4" font-size="20" font-family="'Liberation Sans', Arial, sans-serif" xml:space="preserve" textLength="111.3" lengthAdjust="spacingAndGlyphs" fill="#111" stroke="#111" stroke-width="0.35">Methylation</text>
<text x="1196.2" y="2144.7" font-size="20" font-family="'Liberation Sans', Arial, sans-serif" xml:space="preserve" textLength="134.6" lengthAdjust="spacingAndGlyphs" fill="#111" stroke="#111" stroke-width="0.35">Mef2b/PGC1a</text>
<text x="1223.3" y="2168.0" font-size="20" font-family="'Liberation Sans', Arial, sans-serif" xml:space="preserve" textLength="80.4" lengthAdjust="spacingAndGlyphs" fill="#111" stroke="#111" stroke-width="0.35">Pathway</text>
<path d="M1372.5 2058 C1368 2080, 1358 2098, 1342 2112" fill="none" stroke="#111" stroke-width="2.8" />
<path d="M1331.8 2123.4 L1335.6 2102.0 L1353.0 2115.6 Z" fill="#111" />
<path d="M1380.2 1958.7 L1416.0 1959.7 L1410.2 1989.7" fill="none" stroke="#222" stroke-width="3.4" />
<text x="1048.0" y="2084.7" font-size="21" font-family="'Liberation Sans', Arial, sans-serif" xml:space="preserve" textLength="97.3" lengthAdjust="spacingAndGlyphs" fill="#111" stroke="#111" stroke-width="0.35">Epdidymal</text>
<text x="1082.8" y="2109.4" font-size="21" font-family="'Liberation Sans', Arial, sans-serif" xml:space="preserve" textLength="28.0" lengthAdjust="spacingAndGlyphs" fill="#111" stroke="#111" stroke-width="0.35">Fat</text>
<circle cx="1101.4" cy="2167.0" r="46.00" fill="#f3e3b3" />
<circle cx="1070.0" cy="2143.0" r="10.40" fill="#e8c878" stroke="#b48c42" stroke-width="1.0" />
<ellipse cx="1066.7" cy="2138.7" rx="3.32" ry="1.71" fill="#f6e3b0" opacity="0.8"/>
<circle cx="1092.0" cy="2136.0" r="9.90" fill="#e8c878" stroke="#b48c42" stroke-width="1.0" />
<ellipse cx="1088.8" cy="2131.9" rx="3.15" ry="1.62" fill="#f6e3b0" opacity="0.8"/>
<circle cx="1113.0" cy="2131.0" r="9.90" fill="#e8c878" stroke="#b48c42" stroke-width="1.0" />
<ellipse cx="1109.8" cy="2126.9" rx="3.15" ry="1.62" fill="#f6e3b0" opacity="0.8"/>
<circle cx="1133.0" cy="2142.0" r="10.40" fill="#e8c878" stroke="#b48c42" stroke-width="1.0" />
<ellipse cx="1129.7" cy="2137.7" rx="3.32" ry="1.71" fill="#f6e3b0" opacity="0.8"/>
<circle cx="1061.0" cy="2163.0" r="9.90" fill="#e8c878" stroke="#b48c42" stroke-width="1.0" />
<ellipse cx="1057.8" cy="2158.9" rx="3.15" ry="1.62" fill="#f6e3b0" opacity="0.8"/>
<circle cx="1082.0" cy="2158.0" r="10.90" fill="#e8c878" stroke="#b48c42" stroke-width="1.0" />
<ellipse cx="1078.5" cy="2153.5" rx="3.50" ry="1.80" fill="#f6e3b0" opacity="0.8"/>
<circle cx="1104.0" cy="2152.0" r="10.40" fill="#e8c878" stroke="#b48c42" stroke-width="1.0" />
<ellipse cx="1100.7" cy="2147.7" rx="3.32" ry="1.71" fill="#f6e3b0" opacity="0.8"/>
<circle cx="1127.0" cy="2160.0" r="10.40" fill="#e8c878" stroke="#b48c42" stroke-width="1.0" />
<ellipse cx="1123.7" cy="2155.7" rx="3.32" ry="1.71" fill="#f6e3b0" opacity="0.8"/>
<circle cx="1142.0" cy="2170.0" r="8.90" fill="#e8c878" stroke="#b48c42" stroke-width="1.0" />
<ellipse cx="1139.2" cy="2166.4" rx="2.80" ry="1.44" fill="#f6e3b0" opacity="0.8"/>
<circle cx="1067.0" cy="2182.0" r="10.40" fill="#e8c878" stroke="#b48c42" stroke-width="1.0" />
<ellipse cx="1063.7" cy="2177.7" rx="3.32" ry="1.71" fill="#f6e3b0" opacity="0.8"/>
<circle cx="1088.0" cy="2178.0" r="10.40" fill="#e8c878" stroke="#b48c42" stroke-width="1.0" />
<ellipse cx="1084.7" cy="2173.7" rx="3.32" ry="1.71" fill="#f6e3b0" opacity="0.8"/>
<circle cx="1110.0" cy="2177.0" r="10.40" fill="#e8c878" stroke="#b48c42" stroke-width="1.0" />
<ellipse cx="1106.7" cy="2172.7" rx="3.32" ry="1.71" fill="#f6e3b0" opacity="0.8"/>
<circle cx="1132.0" cy="2184.0" r="9.90" fill="#e8c878" stroke="#b48c42" stroke-width="1.0" />
<ellipse cx="1128.8" cy="2179.9" rx="3.15" ry="1.62" fill="#f6e3b0" opacity="0.8"/>
<circle cx="1080.0" cy="2198.0" r="9.90" fill="#e8c878" stroke="#b48c42" stroke-width="1.0" />
<ellipse cx="1076.8" cy="2193.9" rx="3.15" ry="1.62" fill="#f6e3b0" opacity="0.8"/>
<circle cx="1101.0" cy="2197.0" r="9.90" fill="#e8c878" stroke="#b48c42" stroke-width="1.0" />
<ellipse cx="1097.8" cy="2192.9" rx="3.15" ry="1.62" fill="#f6e3b0" opacity="0.8"/>
<circle cx="1121.0" cy="2201.0" r="10.40" fill="#e8c878" stroke="#b48c42" stroke-width="1.0" />
<ellipse cx="1117.7" cy="2196.7" rx="3.32" ry="1.71" fill="#f6e3b0" opacity="0.8"/>
<circle cx="1090.0" cy="2207.0" r="8.40" fill="#e8c878" stroke="#b48c42" stroke-width="1.0" />
<ellipse cx="1087.4" cy="2203.6" rx="2.62" ry="1.35" fill="#f6e3b0" opacity="0.8"/>
<circle cx="1145.0" cy="2154.0" r="7.90" fill="#e8c878" stroke="#b48c42" stroke-width="1.0" />
<ellipse cx="1142.5" cy="2150.8" rx="2.45" ry="1.26" fill="#f6e3b0" opacity="0.8"/>
<circle cx="1056.0" cy="2178.0" r="7.90" fill="#e8c878" stroke="#b48c42" stroke-width="1.0" />
<ellipse cx="1053.5" cy="2174.8" rx="2.45" ry="1.26" fill="#f6e3b0" opacity="0.8"/>
<circle cx="1083.0" cy="2132.0" r="3.30" fill="#9fa5e0" />
<circle cx="1097.0" cy="2133.0" r="3.30" fill="#e080c4" />
<circle cx="1118.0" cy="2136.0" r="3.30" fill="#a0a8e8" />
<circle cx="1078.0" cy="2148.0" r="3.30" fill="#9fa5e0" />
<circle cx="1106.0" cy="2143.0" r="3.30" fill="#62b8d6" />
<circle cx="1062.0" cy="2151.0" r="3.30" fill="#76c49a" />
<circle cx="1087.0" cy="2163.0" r="3.30" fill="#62b8a0" />
<circle cx="1112.0" cy="2164.0" r="3.30" fill="#62b890" />
<circle cx="1134.0" cy="2170.0" r="3.30" fill="#62b8d6" />
<circle cx="1060.0" cy="2167.0" r="3.30" fill="#80c8d8" />
<circle cx="1085.0" cy="2177.0" r="3.30" fill="#62b8d6" />
<circle cx="1106.0" cy="2177.0" r="3.30" fill="#a0a8e8" />
<circle cx="1124.0" cy="2183.0" r="3.30" fill="#e080c4" />
<circle cx="1140.0" cy="2181.0" r="3.30" fill="#a0a8e8" />
<circle cx="1075.0" cy="2178.0" r="3.30" fill="#a0a8e8" />
<circle cx="1104.0" cy="2200.0" r="3.30" fill="#a0a8e8" />
<circle cx="1114.0" cy="2204.0" r="3.30" fill="#80c8c8" />
<circle cx="1073.0" cy="2195.0" r="3.30" fill="#9fd0b0" />
<path d="M1099.8 2246.5 L1104.5 2210.3 L1134.4 2220.5" fill="none" stroke="#222" stroke-width="3.4" />
<line x1="1284.0" y1="2189.8" x2="1265.0" y2="2210.5" stroke="#222" stroke-width="4.8" />
<path d="M1253.2 2222.9 L1257.2 2201.6 L1277.6 2212.7 Z" fill="#222" />
<text x="1162.0" y="2215.8" font-size="21" font-family="'Liberation Sans', Arial, sans-serif" xml:space="preserve" textLength="54.3" lengthAdjust="spacingAndGlyphs" fill="#111" stroke="#111" stroke-width="0.35">eWAT</text>
<text x="1124.2" y="2240.2" font-size="21" font-family="'Liberation Sans', Arial, sans-serif" xml:space="preserve" textLength="129.8" lengthAdjust="spacingAndGlyphs" fill="#111" stroke="#111" stroke-width="0.35">Macrophages</text>
<path d="M1129.4 2287.6 C1128.7 2281.0 1117.2 2264.3 1114.8 2258.6 C1112.5 2252.9 1114.4 2253.9 1115.3 2253.3 C1116.2 2252.7 1115.9 2250.5 1120.4 2254.7 C1125.0 2258.9 1135.7 2274.4 1142.5 2278.4 C1149.4 2282.5 1158.0 2280.9 1161.3 2279.0 C1164.6 2277.0 1161.8 2269.3 1162.4 2266.5 C1163.1 2263.7 1164.1 2262.2 1165.2 2262.0 C1166.3 2261.8 1167.7 2263.0 1169.1 2265.6 C1170.6 2268.1 1170.8 2274.8 1173.7 2277.2 C1176.5 2279.6 1183.1 2281.5 1186.2 2280.0 C1189.2 2278.6 1190.4 2270.8 1192.2 2268.4 C1193.9 2265.9 1195.4 2265.0 1196.5 2265.3 C1197.6 2265.6 1198.5 2267.1 1198.7 2270.1 C1199.0 2273.1 1197.7 2281.0 1198.2 2283.2 C1198.8 2285.5 1199.6 2285.9 1202.0 2283.7 C1204.4 2281.6 1210.2 2273.0 1212.8 2270.5 C1215.5 2267.9 1216.8 2268.0 1217.8 2268.6 C1218.8 2269.2 1219.6 2270.3 1218.7 2273.8 C1217.9 2277.4 1211.9 2286.0 1212.9 2289.9 C1213.9 2293.9 1219.6 2298.1 1224.7 2297.6 C1229.9 2297.1 1239.7 2288.7 1243.8 2287.0 C1247.9 2285.3 1248.4 2286.4 1249.1 2287.3 C1249.8 2288.2 1250.7 2289.1 1247.9 2292.5 C1245.0 2295.9 1233.7 2303.9 1232.2 2307.6 C1230.6 2311.4 1233.8 2314.3 1238.6 2314.8 C1243.3 2315.3 1256.3 2311.0 1260.9 2310.6 C1265.4 2310.2 1265.5 2311.5 1265.8 2312.6 C1266.1 2313.7 1266.9 2314.7 1263.0 2317.1 C1259.0 2319.4 1246.1 2320.8 1242.4 2326.7 C1238.6 2332.5 1236.4 2346.2 1240.5 2352.1 C1244.5 2358.0 1261.9 2359.7 1266.8 2362.2 C1271.6 2364.6 1270.1 2365.4 1269.8 2366.5 C1269.5 2367.6 1270.4 2369.1 1265.0 2368.7 C1259.5 2368.3 1242.4 2363.5 1237.2 2364.1 C1232.0 2364.8 1232.5 2369.5 1233.7 2372.7 C1234.9 2375.9 1242.3 2380.8 1244.3 2383.4 C1246.4 2386.0 1246.4 2387.6 1245.8 2388.5 C1245.2 2389.4 1243.7 2389.9 1240.5 2389.0 C1237.3 2388.1 1228.7 2383.8 1226.7 2383.0 C1224.7 2382.2 1225.2 2380.5 1228.5 2384.4 C1231.9 2388.3 1243.5 2401.9 1246.6 2406.5 C1249.7 2411.1 1247.9 2411.0 1247.1 2411.8 C1246.3 2412.6 1246.4 2414.4 1241.8 2411.3 C1237.2 2408.2 1224.3 2395.9 1219.7 2393.2 C1215.1 2390.6 1214.2 2392.4 1214.1 2395.3 C1214.1 2398.2 1218.7 2407.2 1219.5 2410.6 C1220.2 2414.0 1219.5 2415.2 1218.5 2415.8 C1217.5 2416.4 1216.1 2416.3 1213.5 2413.9 C1211.0 2411.5 1206.3 2404.1 1203.2 2401.4 C1200.1 2398.7 1196.3 2395.6 1195.0 2397.7 C1193.8 2399.9 1196.0 2410.8 1195.7 2414.4 C1195.4 2418.0 1194.3 2418.9 1193.2 2419.1 C1192.1 2419.3 1190.8 2418.9 1189.0 2415.8 C1187.3 2412.7 1185.8 2403.1 1182.8 2400.3 C1179.8 2397.6 1174.0 2396.7 1171.0 2399.2 C1168.0 2401.6 1166.5 2412.0 1164.8 2415.2 C1163.0 2418.4 1161.7 2418.7 1160.6 2418.5 C1159.5 2418.3 1158.4 2417.5 1158.1 2413.8 C1157.8 2410.2 1162.0 2400.1 1158.7 2396.7 C1155.4 2393.2 1145.0 2390.5 1138.2 2392.9 C1131.4 2395.3 1122.1 2407.9 1117.9 2411.1 C1113.6 2414.2 1113.4 2412.6 1112.6 2411.8 C1111.8 2411.0 1110.1 2411.0 1112.8 2406.5 C1115.5 2401.9 1127.9 2390.3 1128.9 2384.5 C1129.9 2378.7 1123.6 2373.0 1118.8 2371.6 C1114.1 2370.2 1104.3 2375.6 1100.4 2376.1 C1096.4 2376.6 1095.7 2375.5 1095.3 2374.5 C1094.9 2373.5 1094.7 2372.2 1097.8 2369.8 C1100.9 2367.4 1111.6 2362.7 1114.1 2360.0 C1116.6 2357.4 1117.7 2354.8 1112.9 2353.7 C1108.2 2352.6 1091.0 2354.0 1085.7 2353.5 C1080.4 2353.0 1081.4 2351.6 1081.3 2350.5 C1081.2 2349.4 1080.0 2348.3 1085.0 2346.7 C1090.1 2345.2 1107.7 2344.0 1111.7 2341.2 C1115.8 2338.5 1111.7 2333.1 1109.3 2330.3 C1106.9 2327.5 1099.7 2325.9 1097.1 2324.2 C1094.5 2322.5 1093.7 2321.0 1094.0 2319.9 C1094.3 2318.8 1095.7 2317.9 1098.8 2317.6 C1101.9 2317.3 1110.2 2319.7 1112.4 2318.2 C1114.7 2316.8 1113.7 2311.8 1112.5 2308.9 C1111.3 2306.1 1106.5 2303.1 1105.0 2300.9 C1103.4 2298.8 1102.7 2296.9 1103.3 2295.9 C1103.9 2294.9 1105.9 2294.8 1108.6 2295.2 C1111.2 2295.6 1115.6 2299.6 1119.1 2298.3 C1122.6 2297.1 1130.1 2294.2 1129.4 2287.6 Z" fill="#a6b5ef" stroke="#6e86e0" stroke-width="2.0" />
<text x="1129.7" y="2311.2" font-size="15.5" font-family="'Liberation Sans', Arial, sans-serif" xml:space="preserve" textLength="96.1" lengthAdjust="spacingAndGlyphs" fill="#111" stroke="#111" stroke-width="0.35">miR106b-5p</text>
<text x="1123.0" y="2349.2" font-size="15.5" font-family="'Liberation Sans', Arial, sans-serif" xml:space="preserve" textLength="114.1" lengthAdjust="spacingAndGlyphs" fill="#111" stroke="#111" stroke-width="0.35">Mef2b/PGC1a</text>
<text x="1151.9" y="2385.2" font-size="15.5" font-family="'Liberation Sans', Arial, sans-serif" xml:space="preserve" textLength="49.9" lengthAdjust="spacingAndGlyphs" fill="#111" stroke="#111" stroke-width="0.35">Jarid2</text>
<line x1="1176.5" y1="2333.2" x2="1176.5" y2="2320.6" stroke="#111" stroke-width="1.4" />
<path d="M1176.5 2316.6 L1173.3 2322.6 L1179.7 2322.6 Z" fill="#111" />
<line x1="1176.5" y1="2371.2" x2="1176.5" y2="2357.2" stroke="#111" stroke-width="1.4" />
<path d="M1176.5 2353.2 L1173.3 2359.2 L1179.7 2359.2 Z" fill="#111" />
<line x1="1220.5" y1="2297.9" x2="1234.5" y2="2282.5" stroke="#111" stroke-width="1.5" />
<path d="M1240.5 2276.0 L1230.5 2280.0 L1237.0 2286.0 Z" fill="#111" />
<text x="1228.7" y="2266.2" font-size="19" font-family="'Liberation Sans', Arial, sans-serif" xml:space="preserve" textLength="104.7" lengthAdjust="spacingAndGlyphs" fill="#111" stroke="#111" stroke-width="0.35">miR106b-5p</text>
<text x="1338.1" y="2227.1" font-size="19" font-family="'Liberation Sans', Arial, sans-serif" xml:space="preserve" textLength="139.4" lengthAdjust="spacingAndGlyphs" fill="#111" stroke="#111" stroke-width="0.35">Epididymal Fat</text>
<path d="M1401.7 2246.0 C1413.8 2246.2 1430.8 2248.4 1445.3 2252.1 C1459.8 2255.8 1477.3 2261.1 1488.9 2268.1 C1500.5 2275.1 1508.8 2283.4 1515.0 2294.3 C1521.2 2305.2 1524.9 2321.4 1525.9 2333.5 C1526.9 2345.6 1525.0 2357.0 1520.8 2366.9 C1516.6 2376.8 1509.5 2385.8 1500.5 2393.1 C1491.5 2400.4 1479.9 2406.2 1467.1 2410.5 C1454.3 2414.8 1437.8 2418.2 1423.5 2419.2 C1409.2 2420.2 1394.2 2419.9 1381.4 2416.3 C1368.6 2412.7 1356.0 2406.4 1346.5 2397.4 C1337.0 2388.4 1329.3 2374.4 1324.7 2362.5 C1320.1 2350.6 1318.7 2338.0 1318.9 2326.2 C1319.2 2314.3 1321.6 2301.6 1326.2 2291.4 C1330.8 2281.2 1338.8 2272.0 1346.5 2265.2 C1354.2 2258.4 1363.4 2253.9 1372.6 2250.7 C1381.8 2247.5 1389.6 2245.8 1401.7 2246.0 Z" fill="#fdf1b9" stroke="#c9a153" stroke-width="3.8" />
<path d="M1350 2266 C1370 2252, 1400 2249, 1430 2253" fill="none" stroke="#e6c77e" stroke-width="3.0" />
<ellipse cx="1377.0" cy="2256.8" rx="8.00" ry="5.00" fill="#a67c3a" />
<g transform="rotate(25 1485 2262)">
<rect x="1478.5" y="2240.0" width="6.0" height="22.0" fill="#d64545" rx="1.5"/>
<rect x="1486.5" y="2240.0" width="6.0" height="22.0" fill="#d64545" rx="1.5"/>
<line x1="1481.5" y1="2262.0" x2="1481.5" y2="2283.0" stroke="#d64545" stroke-width="1.6" />
<line x1="1489.5" y1="2262.0" x2="1489.5" y2="2283.0" stroke="#d64545" stroke-width="1.6" />
</g>
<text x="1342.1" y="2285.5" font-size="16.5" font-family="'Liberation Sans', Arial, sans-serif" xml:space="preserve" textLength="97.4" lengthAdjust="spacingAndGlyphs" fill="#111" stroke="#111" stroke-width="0.35">miR106b-5p</text>
<line x1="1368.3" y1="2292.8" x2="1368.3" y2="2308.1" stroke="#111" stroke-width="1.5" />
<line x1="1360.3" y1="2308.1" x2="1377.0" y2="2308.1" stroke="#111" stroke-width="1.5" />
<text x="1440.9" y="2308.8" font-size="16.5" font-family="'Liberation Sans', Arial, sans-serif" xml:space="preserve" textLength="53.8" lengthAdjust="spacingAndGlyphs" fill="#111" stroke="#111" stroke-width="0.35">IRS1/2</text>
<text x="1338.5" y="2326.2" font-size="16.5" font-family="'Liberation Sans', Arial, sans-serif" xml:space="preserve" textLength="55.9" lengthAdjust="spacingAndGlyphs" fill="#111" stroke="#111" stroke-width="0.35">PI3KR1</text>
<text x="1338.9" y="2349.5" font-size="16.5" font-family="'Liberation Sans', Arial, sans-serif" xml:space="preserve" textLength="61.1" lengthAdjust="spacingAndGlyphs" fill="#111" stroke="#111" stroke-width="0.35">PI3KCA</text>
<text x="1445.3" y="2363.3" font-size="16.5" font-family="'Liberation Sans', Arial, sans-serif" xml:space="preserve" textLength="42.1" lengthAdjust="spacingAndGlyphs" fill="#111" stroke="#111" stroke-width="0.35">PDK1</text>
<text x="1427.1" y="2398.2" font-size="16.5" font-family="'Liberation Sans', Arial, sans-serif" xml:space="preserve" textLength="42.9" lengthAdjust="spacingAndGlyphs" fill="#111" stroke="#111" stroke-width="0.35">pAKT</text>
<line x1="1332.7" y1="2311.7" x2="1332.7" y2="2325.1" stroke="#111" stroke-width="1.5" />
<path d="M1332.7 2329.1 L1329.3 2322.6 L1336.1 2322.6 Z" fill="#111" />
<line x1="1332.7" y1="2335.0" x2="1332.7" y2="2349.1" stroke="#111" stroke-width="1.5" />
<path d="M1332.7 2353.1 L1329.3 2346.6 L1336.1 2346.6 Z" fill="#111" />
<line x1="1438.7" y1="2349.5" x2="1438.7" y2="2362.9" stroke="#111" stroke-width="1.5" />
<path d="M1438.7 2366.9 L1435.3 2360.4 L1442.1 2360.4 Z" fill="#111" />
<line x1="1421.3" y1="2387.2" x2="1421.3" y2="2402.1" stroke="#111" stroke-width="1.5" />
<path d="M1421.3 2406.1 L1417.9 2399.6 L1424.7 2399.6 Z" fill="#111" />
<line x1="1409.7" y1="2331.8" x2="1436.6" y2="2331.8" stroke="#111" stroke-width="1.4" />
<line x1="1436.6" y1="2325.5" x2="1436.6" y2="2337.8" stroke="#111" stroke-width="1.4" />
<path d="M1467.1 2317.5 C1450 2320, 1448 2343, 1466.5 2347.3" fill="none" stroke="#111" stroke-width="2.6" />
<line x1="1464.9" y1="2369.1" x2="1456.5" y2="2379.5" stroke="#111" stroke-width="1.3" />
<path d="M1453.3 2383.6 L1454.0 2376.0 L1459.5 2380.5 Z" fill="#111" />
<path d="M1413.3 2394.5 C1403 2388, 1392 2386, 1385.5 2390.5 L1385.5 2398" fill="none" stroke="#111" stroke-width="1.5" />
<line x1="1374.1" y1="2398.1" x2="1393.0" y2="2398.1" stroke="#111" stroke-width="1.5" />
<path d="M1321.8 2274.7 L1321.8 2284.1 L1333 2284.1" fill="none" stroke="#333" stroke-width="1.3" />
<path d="M1340.5 2284.1 L1331.5 2279.5 L1331.5 2288.7 Z" fill="#111" />
<rect x="1370.5" y="2400.3" width="21.8" height="25.5" fill="#e290b2" rx="3"/>
<rect x="1377.5" y="2401.5" width="8.0" height="23.0" fill="#c8588a" />
<line x1="1314.3" y1="2433.0" x2="1314.3" y2="2448.4" stroke="#111" stroke-width="1.5" />
<path d="M1314.3 2452.4 L1310.9 2445.9 L1317.7 2445.9 Z" fill="#111" />
<text x="1324.7" y="2448.7" font-size="20" font-family="'Liberation Sans', Arial, sans-serif" xml:space="preserve" textLength="149.4" lengthAdjust="spacingAndGlyphs" fill="#111" stroke="#111" stroke-width="0.35">Glucose Uptake</text>
<path d="M1303.4 2435.0 C1285 2430, 1268 2437, 1260 2452" fill="none" stroke="#111" stroke-width="2.6" />
<path d="M1252.5 2464.5 L1255.0 2450.0 L1267.0 2457.2 Z" fill="#111" />
<text x="1107.3" y="2491.1" font-size="23" font-family="'Liberation Sans', Arial, sans-serif" xml:space="preserve" textLength="307.5" lengthAdjust="spacingAndGlyphs" fill="#111" stroke="#111" stroke-width="0.35">Insulin Resistance -Diabetes</text>
</svg></body></html>
